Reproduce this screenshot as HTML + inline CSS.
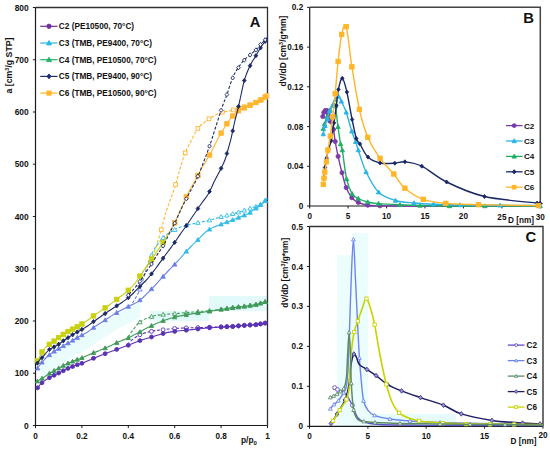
<!DOCTYPE html>
<html><head><meta charset="utf-8"><style>
html,body{margin:0;padding:0;background:#fff;width:550px;height:449px;overflow:hidden;}
svg text{font-family:"Liberation Sans", sans-serif;}
</style></head><body>
<svg width="550" height="449" viewBox="0 0 550 449" style="display:block">
<defs>
<linearGradient id="gC3" gradientUnits="userSpaceOnUse" x1="0" y1="180" x2="0" y2="300"><stop offset="0" stop-color="#33bde6"/><stop offset="0.6" stop-color="#33bde6"/><stop offset="0.7" stop-color="#6a80e6"/><stop offset="1" stop-color="#6a80e6"/></linearGradient>
<linearGradient id="gC6" gradientUnits="userSpaceOnUse" x1="0" y1="180" x2="0" y2="300"><stop offset="0" stop-color="#ffb52e"/><stop offset="0.42" stop-color="#ffb52e"/><stop offset="0.52" stop-color="#c8d010"/><stop offset="1" stop-color="#c8d010"/></linearGradient>
</defs>
<path d="M150,311 H209 V296 H267 V311 H209 V321 H150 Z" fill="#e2fafa"/>
<path d="M40.5,366.0 L44.5,361.7 L48.5,357.6 L52.5,354.5 L56.5,351.8 L60.5,349.6 L64.5,347.2 L68.5,344.8 L72.5,342.5 L76.5,340.1 L80.5,337.8 L84.5,335.7 L88.5,333.4 L92.5,330.4 L96.5,327.6 L100.5,325.0 L104.5,322.5 L108.5,319.9 L112.5,317.3 L116.5,314.8 L120.5,312.6 L124.5,310.5 L128.5,308.5 L132.5,306.5 L136.5,304.4 L140.5,301.6 L140.5,316.6 L136.5,319.4 L132.5,321.5 L128.5,323.5 L124.5,325.5 L120.5,327.6 L116.5,329.8 L112.5,332.3 L108.5,334.9 L104.5,337.5 L100.5,340.0 L96.5,342.6 L92.5,345.4 L88.5,348.4 L84.5,350.7 L80.5,352.8 L76.5,355.1 L72.5,357.5 L68.5,359.8 L64.5,362.2 L60.5,364.6 L56.5,366.8 L52.5,369.5 L48.5,372.6 L44.5,376.7 L40.5,381.0 Z" fill="#ebfcfc"/>
<path d="M35.5,7.5 H267.5 V425.5" fill="none" stroke="#303030" stroke-width="1.3"/>
<path d="M35.5,7.5 V425.5 H267.5" fill="none" stroke="#1a1a1a" stroke-width="1.2"/>
<line x1="32.9" y1="425.5" x2="35.5" y2="425.5" stroke="#1a1a1a" stroke-width="1"/>
<text x="28.7" y="428.6" font-size="8.40" font-weight="bold" text-anchor="end" fill="#111">0</text>
<line x1="32.9" y1="373.2" x2="35.5" y2="373.2" stroke="#1a1a1a" stroke-width="1"/>
<text x="28.7" y="376.4" font-size="8.40" font-weight="bold" text-anchor="end" fill="#111">100</text>
<line x1="32.9" y1="321.0" x2="35.5" y2="321.0" stroke="#1a1a1a" stroke-width="1"/>
<text x="28.7" y="324.1" font-size="8.40" font-weight="bold" text-anchor="end" fill="#111">200</text>
<line x1="32.9" y1="268.8" x2="35.5" y2="268.8" stroke="#1a1a1a" stroke-width="1"/>
<text x="28.7" y="271.9" font-size="8.40" font-weight="bold" text-anchor="end" fill="#111">300</text>
<line x1="32.9" y1="216.5" x2="35.5" y2="216.5" stroke="#1a1a1a" stroke-width="1"/>
<text x="28.7" y="219.6" font-size="8.40" font-weight="bold" text-anchor="end" fill="#111">400</text>
<line x1="32.9" y1="164.2" x2="35.5" y2="164.2" stroke="#1a1a1a" stroke-width="1"/>
<text x="28.7" y="167.3" font-size="8.40" font-weight="bold" text-anchor="end" fill="#111">500</text>
<line x1="32.9" y1="112.0" x2="35.5" y2="112.0" stroke="#1a1a1a" stroke-width="1"/>
<text x="28.7" y="115.1" font-size="8.40" font-weight="bold" text-anchor="end" fill="#111">600</text>
<line x1="32.9" y1="59.8" x2="35.5" y2="59.8" stroke="#1a1a1a" stroke-width="1"/>
<text x="28.7" y="62.9" font-size="8.40" font-weight="bold" text-anchor="end" fill="#111">700</text>
<line x1="32.9" y1="7.5" x2="35.5" y2="7.5" stroke="#1a1a1a" stroke-width="1"/>
<text x="28.7" y="10.6" font-size="8.40" font-weight="bold" text-anchor="end" fill="#111">800</text>
<line x1="35.5" y1="425.5" x2="35.5" y2="428.1" stroke="#1a1a1a" stroke-width="1"/>
<text x="35.5" y="438.5" font-size="8.20" font-weight="bold" text-anchor="middle" fill="#111">0</text>
<line x1="81.9" y1="425.5" x2="81.9" y2="428.1" stroke="#1a1a1a" stroke-width="1"/>
<text x="81.9" y="438.5" font-size="8.20" font-weight="bold" text-anchor="middle" fill="#111">0.2</text>
<line x1="128.3" y1="425.5" x2="128.3" y2="428.1" stroke="#1a1a1a" stroke-width="1"/>
<text x="128.3" y="438.5" font-size="8.20" font-weight="bold" text-anchor="middle" fill="#111">0.4</text>
<line x1="174.7" y1="425.5" x2="174.7" y2="428.1" stroke="#1a1a1a" stroke-width="1"/>
<text x="174.7" y="438.5" font-size="8.20" font-weight="bold" text-anchor="middle" fill="#111">0.6</text>
<line x1="221.1" y1="425.5" x2="221.1" y2="428.1" stroke="#1a1a1a" stroke-width="1"/>
<text x="221.1" y="438.5" font-size="8.20" font-weight="bold" text-anchor="middle" fill="#111">0.8</text>
<line x1="267.5" y1="425.5" x2="267.5" y2="428.1" stroke="#1a1a1a" stroke-width="1"/>
<text x="267.5" y="438.5" font-size="8.20" font-weight="bold" text-anchor="middle" fill="#111">1</text>
<text x="241.0" y="443.0" font-size="8.4" font-weight="bold" fill="#111">p/p<tspan font-size="6" dy="1.6">0</tspan></text>
<text transform="translate(12.2,65.5) rotate(-90)" font-size="8.75" font-weight="bold" text-anchor="middle" fill="#111">a [cm<tspan font-size="5.5" dy="-3">3</tspan><tspan dy="3">/g STP]</tspan></text>
<text x="255.0" y="27.0" font-size="14.80" font-weight="bold" text-anchor="middle" fill="#111">A</text>
<line x1="40.2" y1="26.3" x2="57.5" y2="26.3" stroke="#7030a0" stroke-width="1.2"/>
<circle cx="49.0" cy="26.3" r="2.18" fill="#7030a0" stroke="#7030a0" stroke-width="0.90"/>
<text x="58.8" y="29.3" font-size="8.25" font-weight="bold" text-anchor="start" fill="#111">C2 (PE10500, 70°C)</text>
<line x1="40.2" y1="43.0" x2="57.5" y2="43.0" stroke="#29b8e3" stroke-width="1.2"/>
<path d="M49.0,40.5 L51.5,44.9 L46.5,44.9 Z" fill="#29b8e3" stroke="#29b8e3" stroke-width="0.90"/>
<text x="58.8" y="46.0" font-size="8.25" font-weight="bold" text-anchor="start" fill="#111">C3 (TMB, PE9400, 70°C)</text>
<line x1="40.2" y1="59.7" x2="57.5" y2="59.7" stroke="#22b06a" stroke-width="1.2"/>
<path d="M49.0,57.2 L51.5,61.6 L46.5,61.6 Z" fill="#22b06a" stroke="#22b06a" stroke-width="0.90"/>
<text x="58.8" y="62.7" font-size="8.25" font-weight="bold" text-anchor="start" fill="#111">C4 (TMB, PE10500, 70°C)</text>
<line x1="40.2" y1="76.4" x2="57.5" y2="76.4" stroke="#1c2e6e" stroke-width="1.2"/>
<path d="M49.0,74.0 L51.0,76.4 L49.0,78.8 L47.0,76.4 Z" fill="#1c2e6e" stroke="#1c2e6e" stroke-width="0.90"/>
<text x="58.8" y="79.4" font-size="8.25" font-weight="bold" text-anchor="start" fill="#111">C5 (TMB, PE9400, 90°C)</text>
<line x1="40.2" y1="93.1" x2="57.5" y2="93.1" stroke="#ffb52e" stroke-width="1.2"/>
<rect x="46.9" y="91.0" width="4.2" height="4.2" fill="#ffb52e" stroke="#ffb52e" stroke-width="0.90"/>
<text x="58.8" y="96.1" font-size="8.25" font-weight="bold" text-anchor="start" fill="#111">C6 (TMB, PE10500, 90°C)</text>
<path d="M265.3,323.1 C263.7,323.4 259.4,324.2 255.8,324.6 C252.2,325.0 247.7,325.0 244.0,325.3 C240.3,325.6 237.1,326.1 233.4,326.3 C229.7,326.6 225.6,326.7 221.6,326.8 C217.6,326.9 213.6,327.1 209.7,327.2 C205.8,327.3 201.7,327.5 198.0,327.6 C194.3,327.7 191.1,327.8 187.3,327.9 C183.6,328.0 179.3,328.1 175.5,328.4 C171.7,328.7 168.1,329.1 164.2,329.6 C160.2,330.1 155.9,330.4 151.8,331.3 C147.7,332.2 143.4,333.0 139.5,334.9 C135.6,336.8 130.3,341.6 128.5,342.9" fill="none" stroke="#5a32b4" stroke-width="1.10" stroke-dasharray="3,1.8"/>
<circle cx="265.2" cy="323.1" r="1.95" fill="#fff" stroke="#5a32b4" stroke-width="0.90"/>
<circle cx="260.5" cy="323.9" r="1.95" fill="#fff" stroke="#5a32b4" stroke-width="0.90"/>
<circle cx="255.9" cy="324.6" r="1.95" fill="#fff" stroke="#5a32b4" stroke-width="0.90"/>
<circle cx="250.1" cy="324.9" r="1.95" fill="#fff" stroke="#5a32b4" stroke-width="0.90"/>
<circle cx="244.3" cy="325.3" r="1.95" fill="#fff" stroke="#5a32b4" stroke-width="0.90"/>
<circle cx="238.5" cy="325.8" r="1.95" fill="#fff" stroke="#5a32b4" stroke-width="0.90"/>
<circle cx="232.7" cy="326.3" r="1.95" fill="#fff" stroke="#5a32b4" stroke-width="0.90"/>
<circle cx="226.9" cy="326.6" r="1.95" fill="#fff" stroke="#5a32b4" stroke-width="0.90"/>
<circle cx="221.1" cy="326.8" r="1.95" fill="#fff" stroke="#5a32b4" stroke-width="0.90"/>
<circle cx="209.5" cy="327.2" r="1.95" fill="#fff" stroke="#5a32b4" stroke-width="0.90"/>
<circle cx="197.9" cy="327.6" r="1.95" fill="#fff" stroke="#5a32b4" stroke-width="0.90"/>
<circle cx="186.3" cy="327.9" r="1.95" fill="#fff" stroke="#5a32b4" stroke-width="0.90"/>
<circle cx="174.7" cy="328.5" r="1.95" fill="#fff" stroke="#5a32b4" stroke-width="0.90"/>
<circle cx="163.1" cy="329.8" r="1.95" fill="#fff" stroke="#5a32b4" stroke-width="0.90"/>
<circle cx="151.5" cy="331.4" r="1.95" fill="#fff" stroke="#5a32b4" stroke-width="0.90"/>
<circle cx="139.9" cy="334.8" r="1.95" fill="#fff" stroke="#5a32b4" stroke-width="0.90"/>
<path d="M37.6,387.8 C38.5,386.8 40.5,383.7 42.7,381.9 C44.9,380.1 48.1,378.3 50.7,376.9 C53.3,375.4 55.7,374.5 58.4,373.2 C61.1,371.9 64.1,370.2 67.1,368.8 C70.1,367.4 74.0,365.8 76.5,364.9 C79.0,364.0 79.6,364.3 82.4,363.2 C85.2,362.1 89.7,359.9 93.3,358.4 C96.9,356.9 100.2,355.5 104.2,354.0 C108.2,352.5 113.3,350.6 117.3,349.2 C121.3,347.8 124.6,346.7 128.2,345.3 C131.8,343.9 135.4,342.2 139.1,340.9 C142.8,339.6 146.7,338.5 150.6,337.3 C154.5,336.1 158.6,334.7 162.5,333.7 C166.4,332.7 170.4,332.0 174.3,331.4 C178.2,330.8 182.2,330.6 186.1,330.2 C190.0,329.8 194.0,329.4 197.9,329.0 C201.8,328.6 206.8,328.1 209.7,327.8 C212.6,327.5 213.6,327.5 215.6,327.4 C217.6,327.3 219.6,327.2 221.6,327.1 C223.6,327.0 225.5,326.9 227.5,326.8 C229.5,326.7 231.5,326.7 233.4,326.6 C235.3,326.5 236.9,326.2 238.7,326.0 C240.5,325.8 242.1,325.6 244.0,325.5 C245.9,325.4 247.9,325.2 249.9,325.1 C251.9,325.0 254.0,325.0 255.8,324.8 C257.6,324.6 258.9,324.3 260.5,324.0 C262.1,323.7 264.5,323.2 265.3,323.1" fill="none" stroke="#5a32b4" stroke-width="1.10"/>
<circle cx="37.6" cy="387.8" r="1.95" fill="#5a32b4" stroke="#5a32b4" stroke-width="0.90"/>
<circle cx="42.0" cy="382.7" r="1.95" fill="#5a32b4" stroke="#5a32b4" stroke-width="0.90"/>
<circle cx="49.4" cy="377.7" r="1.95" fill="#5a32b4" stroke="#5a32b4" stroke-width="0.90"/>
<circle cx="54.1" cy="375.3" r="1.95" fill="#5a32b4" stroke="#5a32b4" stroke-width="0.90"/>
<circle cx="58.7" cy="373.0" r="1.95" fill="#5a32b4" stroke="#5a32b4" stroke-width="0.90"/>
<circle cx="63.3" cy="370.7" r="1.95" fill="#5a32b4" stroke="#5a32b4" stroke-width="0.90"/>
<circle cx="68.0" cy="368.4" r="1.95" fill="#5a32b4" stroke="#5a32b4" stroke-width="0.90"/>
<circle cx="72.6" cy="366.5" r="1.95" fill="#5a32b4" stroke="#5a32b4" stroke-width="0.90"/>
<circle cx="77.3" cy="364.7" r="1.95" fill="#5a32b4" stroke="#5a32b4" stroke-width="0.90"/>
<circle cx="81.9" cy="363.3" r="1.95" fill="#5a32b4" stroke="#5a32b4" stroke-width="0.90"/>
<circle cx="93.5" cy="358.3" r="1.95" fill="#5a32b4" stroke="#5a32b4" stroke-width="0.90"/>
<circle cx="105.1" cy="353.7" r="1.95" fill="#5a32b4" stroke="#5a32b4" stroke-width="0.90"/>
<circle cx="116.7" cy="349.4" r="1.95" fill="#5a32b4" stroke="#5a32b4" stroke-width="0.90"/>
<circle cx="128.3" cy="345.3" r="1.95" fill="#5a32b4" stroke="#5a32b4" stroke-width="0.90"/>
<circle cx="139.9" cy="340.6" r="1.95" fill="#5a32b4" stroke="#5a32b4" stroke-width="0.90"/>
<circle cx="151.5" cy="337.0" r="1.95" fill="#5a32b4" stroke="#5a32b4" stroke-width="0.90"/>
<circle cx="163.1" cy="333.6" r="1.95" fill="#5a32b4" stroke="#5a32b4" stroke-width="0.90"/>
<circle cx="174.7" cy="331.4" r="1.95" fill="#5a32b4" stroke="#5a32b4" stroke-width="0.90"/>
<circle cx="186.3" cy="330.2" r="1.95" fill="#5a32b4" stroke="#5a32b4" stroke-width="0.90"/>
<circle cx="197.9" cy="329.0" r="1.95" fill="#5a32b4" stroke="#5a32b4" stroke-width="0.90"/>
<circle cx="209.5" cy="327.8" r="1.95" fill="#5a32b4" stroke="#5a32b4" stroke-width="0.90"/>
<circle cx="221.1" cy="327.1" r="1.95" fill="#5a32b4" stroke="#5a32b4" stroke-width="0.90"/>
<circle cx="226.9" cy="326.8" r="1.95" fill="#5a32b4" stroke="#5a32b4" stroke-width="0.90"/>
<circle cx="232.7" cy="326.6" r="1.95" fill="#5a32b4" stroke="#5a32b4" stroke-width="0.90"/>
<circle cx="238.5" cy="326.0" r="1.95" fill="#5a32b4" stroke="#5a32b4" stroke-width="0.90"/>
<circle cx="244.3" cy="325.5" r="1.95" fill="#5a32b4" stroke="#5a32b4" stroke-width="0.90"/>
<circle cx="250.1" cy="325.1" r="1.95" fill="#5a32b4" stroke="#5a32b4" stroke-width="0.90"/>
<circle cx="255.9" cy="324.8" r="1.95" fill="#5a32b4" stroke="#5a32b4" stroke-width="0.90"/>
<circle cx="260.5" cy="324.0" r="1.95" fill="#5a32b4" stroke="#5a32b4" stroke-width="0.90"/>
<circle cx="265.2" cy="323.1" r="1.95" fill="#5a32b4" stroke="#5a32b4" stroke-width="0.90"/>
<path d="M265.3,301.8 C263.7,302.2 259.4,303.7 255.8,304.4 C252.2,305.1 247.7,305.7 244.0,306.2 C240.3,306.7 237.1,306.9 233.4,307.4 C229.7,307.9 225.6,308.6 221.6,309.2 C217.6,309.8 213.6,310.4 209.7,310.8 C205.8,311.2 201.7,311.3 198.0,311.6 C194.3,311.9 191.1,312.2 187.3,312.5 C183.6,312.8 179.5,313.3 175.5,313.6 C171.5,313.9 167.6,314.0 163.5,314.5 C159.4,315.0 155.0,315.5 151.1,316.7 C147.2,317.9 143.2,319.6 140.2,321.8 C137.2,324.0 135.2,327.2 133.0,330.0 C130.8,332.8 128.1,337.1 127.1,338.5" fill="none" stroke="#3f9a5a" stroke-width="1.10" stroke-dasharray="3,1.8"/>
<path d="M265.2,299.6 L267.4,303.5 L263.0,303.5 Z" fill="#fff" stroke="#3f9a5a" stroke-width="0.90"/>
<path d="M260.5,300.9 L262.7,304.8 L258.3,304.8 Z" fill="#fff" stroke="#3f9a5a" stroke-width="0.90"/>
<path d="M255.9,302.2 L258.1,306.0 L253.7,306.0 Z" fill="#fff" stroke="#3f9a5a" stroke-width="0.90"/>
<path d="M250.1,303.1 L252.3,306.9 L247.9,306.9 Z" fill="#fff" stroke="#3f9a5a" stroke-width="0.90"/>
<path d="M244.3,303.9 L246.5,307.8 L242.1,307.8 Z" fill="#fff" stroke="#3f9a5a" stroke-width="0.90"/>
<path d="M238.5,304.6 L240.7,308.5 L236.3,308.5 Z" fill="#fff" stroke="#3f9a5a" stroke-width="0.90"/>
<path d="M232.7,305.3 L234.9,309.2 L230.5,309.2 Z" fill="#fff" stroke="#3f9a5a" stroke-width="0.90"/>
<path d="M226.9,306.2 L229.1,310.0 L224.7,310.0 Z" fill="#fff" stroke="#3f9a5a" stroke-width="0.90"/>
<path d="M221.1,307.1 L223.3,310.9 L218.9,310.9 Z" fill="#fff" stroke="#3f9a5a" stroke-width="0.90"/>
<path d="M209.5,308.6 L211.7,312.5 L207.3,312.5 Z" fill="#fff" stroke="#3f9a5a" stroke-width="0.90"/>
<path d="M197.9,309.4 L200.1,313.3 L195.7,313.3 Z" fill="#fff" stroke="#3f9a5a" stroke-width="0.90"/>
<path d="M186.3,310.4 L188.5,314.3 L184.1,314.3 Z" fill="#fff" stroke="#3f9a5a" stroke-width="0.90"/>
<path d="M174.7,311.5 L176.9,315.3 L172.5,315.3 Z" fill="#fff" stroke="#3f9a5a" stroke-width="0.90"/>
<path d="M163.1,312.4 L165.3,316.2 L160.9,316.2 Z" fill="#fff" stroke="#3f9a5a" stroke-width="0.90"/>
<path d="M151.5,314.4 L153.7,318.3 L149.3,318.3 Z" fill="#fff" stroke="#3f9a5a" stroke-width="0.90"/>
<path d="M139.9,319.9 L142.1,323.8 L137.7,323.8 Z" fill="#fff" stroke="#3f9a5a" stroke-width="0.90"/>
<path d="M37.0,381.5 C37.8,381.0 40.4,379.4 42.0,378.4 C43.6,377.4 45.0,376.5 46.5,375.5 C48.0,374.5 49.2,373.4 50.7,372.5 C52.2,371.6 54.0,370.8 55.5,370.0 C57.0,369.2 58.5,368.3 60.0,367.5 C61.5,366.7 63.0,365.8 64.5,365.0 C66.0,364.2 67.4,363.5 69.3,362.7 C71.2,361.9 73.6,360.9 76.0,360.0 C78.4,359.1 81.4,358.1 83.5,357.3 C85.6,356.5 86.9,355.7 88.5,355.0 C90.1,354.3 91.6,353.6 93.3,352.9 C95.0,352.2 96.7,351.7 98.5,351.0 C100.3,350.3 102.3,349.3 104.2,348.5 C106.1,347.7 108.0,346.9 110.0,346.0 C112.0,345.1 114.2,343.8 116.2,342.9 C118.2,342.0 120.2,341.2 122.0,340.5 C123.8,339.8 125.3,339.3 127.1,338.5 C128.9,337.7 131.1,336.5 133.0,335.5 C134.9,334.5 135.8,334.2 138.7,332.7 C141.6,331.1 146.4,328.2 150.4,326.2 C154.4,324.2 158.5,322.4 162.5,320.9 C166.5,319.4 170.4,318.2 174.3,317.2 C178.2,316.2 182.2,315.5 186.1,314.8 C190.0,314.1 194.0,313.5 197.9,312.9 C201.8,312.3 206.8,311.7 209.7,311.3 C212.6,310.9 213.6,310.7 215.6,310.4 C217.6,310.1 219.6,309.7 221.6,309.4 C223.6,309.1 225.5,308.8 227.5,308.5 C229.5,308.2 231.5,307.9 233.4,307.7 C235.3,307.5 236.9,307.3 238.7,307.1 C240.5,306.9 242.1,306.8 244.0,306.5 C245.9,306.2 247.9,305.9 249.9,305.6 C251.9,305.3 254.0,305.1 255.8,304.7 C257.6,304.3 258.9,303.8 260.5,303.3 C262.1,302.8 264.5,302.1 265.3,301.8" fill="none" stroke="#3f9a5a" stroke-width="1.10"/>
<path d="M37.4,379.1 L39.6,382.9 L35.1,382.9 Z" fill="#3f9a5a" stroke="#3f9a5a" stroke-width="0.90"/>
<path d="M42.0,376.2 L44.2,380.1 L39.8,380.1 Z" fill="#3f9a5a" stroke="#3f9a5a" stroke-width="0.90"/>
<path d="M49.4,371.2 L51.6,375.1 L47.2,375.1 Z" fill="#3f9a5a" stroke="#3f9a5a" stroke-width="0.90"/>
<path d="M54.1,368.5 L56.3,372.4 L51.9,372.4 Z" fill="#3f9a5a" stroke="#3f9a5a" stroke-width="0.90"/>
<path d="M58.7,366.0 L60.9,369.9 L56.5,369.9 Z" fill="#3f9a5a" stroke="#3f9a5a" stroke-width="0.90"/>
<path d="M63.3,363.4 L65.5,367.3 L61.1,367.3 Z" fill="#3f9a5a" stroke="#3f9a5a" stroke-width="0.90"/>
<path d="M68.0,361.1 L70.2,365.0 L65.8,365.0 Z" fill="#3f9a5a" stroke="#3f9a5a" stroke-width="0.90"/>
<path d="M72.6,359.2 L74.8,363.0 L70.4,363.0 Z" fill="#3f9a5a" stroke="#3f9a5a" stroke-width="0.90"/>
<path d="M77.3,357.3 L79.5,361.2 L75.0,361.2 Z" fill="#3f9a5a" stroke="#3f9a5a" stroke-width="0.90"/>
<path d="M81.9,355.7 L84.1,359.5 L79.7,359.5 Z" fill="#3f9a5a" stroke="#3f9a5a" stroke-width="0.90"/>
<path d="M93.5,350.6 L95.7,354.5 L91.3,354.5 Z" fill="#3f9a5a" stroke="#3f9a5a" stroke-width="0.90"/>
<path d="M105.1,345.9 L107.3,349.8 L102.9,349.8 Z" fill="#3f9a5a" stroke="#3f9a5a" stroke-width="0.90"/>
<path d="M116.7,340.5 L118.9,344.4 L114.5,344.4 Z" fill="#3f9a5a" stroke="#3f9a5a" stroke-width="0.90"/>
<path d="M128.3,335.7 L130.5,339.5 L126.1,339.5 Z" fill="#3f9a5a" stroke="#3f9a5a" stroke-width="0.90"/>
<path d="M139.9,329.8 L142.1,333.7 L137.7,333.7 Z" fill="#3f9a5a" stroke="#3f9a5a" stroke-width="0.90"/>
<path d="M151.5,323.5 L153.7,327.4 L149.3,327.4 Z" fill="#3f9a5a" stroke="#3f9a5a" stroke-width="0.90"/>
<path d="M163.1,318.5 L165.3,322.4 L160.9,322.4 Z" fill="#3f9a5a" stroke="#3f9a5a" stroke-width="0.90"/>
<path d="M174.7,314.9 L176.9,318.8 L172.5,318.8 Z" fill="#3f9a5a" stroke="#3f9a5a" stroke-width="0.90"/>
<path d="M186.3,312.6 L188.5,316.4 L184.1,316.4 Z" fill="#3f9a5a" stroke="#3f9a5a" stroke-width="0.90"/>
<path d="M197.9,310.7 L200.1,314.6 L195.7,314.6 Z" fill="#3f9a5a" stroke="#3f9a5a" stroke-width="0.90"/>
<path d="M209.5,309.1 L211.7,313.0 L207.3,313.0 Z" fill="#3f9a5a" stroke="#3f9a5a" stroke-width="0.90"/>
<path d="M221.1,307.3 L223.3,311.1 L218.9,311.1 Z" fill="#3f9a5a" stroke="#3f9a5a" stroke-width="0.90"/>
<path d="M226.9,306.4 L229.1,310.2 L224.7,310.2 Z" fill="#3f9a5a" stroke="#3f9a5a" stroke-width="0.90"/>
<path d="M232.7,305.6 L234.9,309.5 L230.5,309.5 Z" fill="#3f9a5a" stroke="#3f9a5a" stroke-width="0.90"/>
<path d="M238.5,304.9 L240.7,308.8 L236.3,308.8 Z" fill="#3f9a5a" stroke="#3f9a5a" stroke-width="0.90"/>
<path d="M244.3,304.2 L246.5,308.1 L242.1,308.1 Z" fill="#3f9a5a" stroke="#3f9a5a" stroke-width="0.90"/>
<path d="M250.1,303.4 L252.3,307.2 L247.9,307.2 Z" fill="#3f9a5a" stroke="#3f9a5a" stroke-width="0.90"/>
<path d="M255.9,302.5 L258.1,306.3 L253.7,306.3 Z" fill="#3f9a5a" stroke="#3f9a5a" stroke-width="0.90"/>
<path d="M260.5,301.1 L262.7,304.9 L258.3,304.9 Z" fill="#3f9a5a" stroke="#3f9a5a" stroke-width="0.90"/>
<path d="M265.2,299.6 L267.4,303.5 L263.0,303.5 Z" fill="#3f9a5a" stroke="#3f9a5a" stroke-width="0.90"/>
<path d="M267.2,198.7 C266.3,199.6 263.9,202.7 262.0,204.0 C260.1,205.3 257.8,205.9 256.0,206.5 C254.2,207.1 252.9,207.3 251.5,207.8 C250.1,208.3 248.9,208.9 247.6,209.4 C246.3,209.9 244.8,210.3 243.5,210.7 C242.2,211.1 240.8,211.6 239.5,212.0 C238.2,212.4 236.8,212.7 235.5,213.1 C234.2,213.5 233.1,213.8 231.5,214.2 C229.9,214.6 227.8,215.1 226.0,215.6 C224.2,216.1 222.6,216.4 220.8,216.9 C219.1,217.4 217.3,218.0 215.5,218.5 C213.7,219.0 212.0,219.6 210.1,220.1 C208.2,220.6 206.0,221.0 204.0,221.4 C202.0,221.8 200.1,222.3 198.1,222.7 C196.1,223.1 194.0,223.6 192.0,224.0 C190.0,224.4 188.9,224.5 186.1,225.4 C183.3,226.3 179.2,227.4 175.4,229.4 C171.6,231.4 167.2,233.6 163.4,237.4 C159.6,241.2 155.6,246.7 152.7,252.1 C149.8,257.5 148.1,263.8 146.0,270.0 C143.9,276.2 142.4,283.4 140.1,289.1 C137.8,294.8 133.3,301.5 132.0,304.0" fill="none" stroke="url(#gC3)" stroke-width="1.1" stroke-dasharray="3,1.8"/>
<path d="M265.2,198.5 L267.4,202.4 L263.0,202.4 Z" fill="#fff" stroke="#33bde6" stroke-width="0.90"/>
<path d="M260.5,202.4 L262.7,206.3 L258.3,206.3 Z" fill="#fff" stroke="#33bde6" stroke-width="0.90"/>
<path d="M255.9,204.3 L258.1,208.2 L253.7,208.2 Z" fill="#fff" stroke="#33bde6" stroke-width="0.90"/>
<path d="M250.1,206.2 L252.3,210.0 L247.9,210.0 Z" fill="#fff" stroke="#33bde6" stroke-width="0.90"/>
<path d="M244.3,208.2 L246.5,212.1 L242.1,212.1 Z" fill="#fff" stroke="#33bde6" stroke-width="0.90"/>
<path d="M238.5,210.1 L240.7,213.9 L236.3,213.9 Z" fill="#fff" stroke="#33bde6" stroke-width="0.90"/>
<path d="M232.7,211.7 L234.9,215.5 L230.5,215.5 Z" fill="#fff" stroke="#33bde6" stroke-width="0.90"/>
<path d="M226.9,213.2 L229.1,217.0 L224.7,217.0 Z" fill="#fff" stroke="#33bde6" stroke-width="0.90"/>
<path d="M221.1,214.6 L223.3,218.5 L218.9,218.5 Z" fill="#fff" stroke="#33bde6" stroke-width="0.90"/>
<path d="M209.5,218.0 L211.7,221.9 L207.3,221.9 Z" fill="#fff" stroke="#33bde6" stroke-width="0.90"/>
<path d="M197.9,220.5 L200.1,224.4 L195.7,224.4 Z" fill="#fff" stroke="#33bde6" stroke-width="0.90"/>
<path d="M186.3,223.1 L188.5,227.0 L184.1,227.0 Z" fill="#fff" stroke="#33bde6" stroke-width="0.90"/>
<path d="M174.7,227.7 L176.9,231.5 L172.5,231.5 Z" fill="#fff" stroke="#33bde6" stroke-width="0.90"/>
<path d="M163.1,235.6 L165.3,239.5 L160.9,239.5 Z" fill="#fff" stroke="#33bde6" stroke-width="0.90"/>
<path d="M151.5,253.1 L153.7,257.0 L149.3,257.0 Z" fill="#fff" stroke="#33bde6" stroke-width="0.90"/>
<path d="M139.9,287.3 L142.1,291.1 L137.7,291.1 Z" fill="#fff" stroke="#6a80e6" stroke-width="0.90"/>
<path d="M37.7,368.3 C38.2,367.6 39.5,365.3 40.5,364.0 C41.5,362.7 42.6,361.6 43.9,360.3 C45.1,359.0 46.5,357.3 48.0,356.0 C49.5,354.7 51.3,353.4 52.8,352.3 C54.3,351.2 55.5,350.4 57.0,349.5 C58.5,348.6 60.2,347.9 61.7,347.0 C63.2,346.1 64.5,345.2 66.0,344.3 C67.5,343.4 69.1,342.5 70.6,341.6 C72.1,340.7 73.5,339.9 75.0,339.0 C76.5,338.1 78.0,337.1 79.5,336.3 C81.0,335.5 82.5,334.8 84.0,334.0 C85.5,333.2 86.7,332.6 88.4,331.5 C90.1,330.4 92.3,328.4 94.0,327.2 C95.7,326.0 96.9,325.3 98.5,324.3 C100.1,323.3 101.6,322.4 103.4,321.2 C105.2,320.0 107.4,318.5 109.5,317.2 C111.6,315.9 113.8,314.4 115.8,313.2 C117.8,312.0 119.6,311.0 121.5,310.0 C123.4,309.0 125.5,307.9 127.4,307.0 C129.3,306.1 131.2,305.2 133.0,304.3 C134.8,303.4 136.3,302.8 138.1,301.6 C139.8,300.4 141.7,298.6 143.5,297.0 C145.3,295.4 146.7,293.9 148.8,291.8 C150.9,289.7 153.6,286.9 156.0,284.3 C158.4,281.7 161.2,278.6 163.4,276.2 C165.6,273.8 167.1,272.0 169.0,270.0 C170.9,268.0 173.0,266.2 174.9,264.2 C176.8,262.2 178.6,260.1 180.5,258.0 C182.4,255.9 184.3,253.6 186.1,251.6 C187.9,249.6 189.7,247.8 191.5,246.0 C193.3,244.2 195.0,242.7 196.8,240.9 C198.6,239.1 200.6,236.8 202.5,235.0 C204.4,233.2 206.2,231.4 208.0,230.2 C209.8,228.9 211.3,228.3 213.0,227.5 C214.7,226.7 216.4,226.1 218.2,225.4 C219.9,224.7 221.7,223.9 223.5,223.2 C225.3,222.5 227.3,222.0 228.9,221.4 C230.5,220.8 231.6,220.3 232.9,219.8 C234.2,219.3 235.2,218.9 236.9,218.2 C238.6,217.5 240.9,216.6 242.9,215.8 C244.9,215.0 247.1,214.4 248.9,213.4 C250.7,212.4 251.9,211.1 253.5,210.0 C255.1,208.9 256.6,207.9 258.2,206.7 C259.8,205.5 261.5,204.0 263.0,202.7 C264.5,201.4 266.5,199.4 267.2,198.7" fill="none" stroke="url(#gC3)" stroke-width="1.1"/>
<path d="M37.7,366.1 L39.9,370.0 L35.5,370.0 Z" fill="#6a80e6" stroke="#6a80e6" stroke-width="0.90"/>
<path d="M42.0,360.2 L44.2,364.0 L39.8,364.0 Z" fill="#6a80e6" stroke="#6a80e6" stroke-width="0.90"/>
<path d="M49.4,352.7 L51.6,356.6 L47.2,356.6 Z" fill="#6a80e6" stroke="#6a80e6" stroke-width="0.90"/>
<path d="M54.1,349.2 L56.3,353.1 L51.9,353.1 Z" fill="#6a80e6" stroke="#6a80e6" stroke-width="0.90"/>
<path d="M58.7,346.4 L60.9,350.3 L56.5,350.3 Z" fill="#6a80e6" stroke="#6a80e6" stroke-width="0.90"/>
<path d="M63.3,343.8 L65.5,347.6 L61.1,347.6 Z" fill="#6a80e6" stroke="#6a80e6" stroke-width="0.90"/>
<path d="M68.0,340.9 L70.2,344.8 L65.8,344.8 Z" fill="#6a80e6" stroke="#6a80e6" stroke-width="0.90"/>
<path d="M72.6,338.2 L74.8,342.1 L70.4,342.1 Z" fill="#6a80e6" stroke="#6a80e6" stroke-width="0.90"/>
<path d="M77.3,335.4 L79.5,339.3 L75.0,339.3 Z" fill="#6a80e6" stroke="#6a80e6" stroke-width="0.90"/>
<path d="M81.9,332.9 L84.1,336.7 L79.7,336.7 Z" fill="#6a80e6" stroke="#6a80e6" stroke-width="0.90"/>
<path d="M93.5,325.4 L95.7,329.2 L91.3,329.2 Z" fill="#6a80e6" stroke="#6a80e6" stroke-width="0.90"/>
<path d="M105.1,317.9 L107.3,321.7 L102.9,321.7 Z" fill="#6a80e6" stroke="#6a80e6" stroke-width="0.90"/>
<path d="M116.7,310.5 L118.9,314.4 L114.5,314.4 Z" fill="#6a80e6" stroke="#6a80e6" stroke-width="0.90"/>
<path d="M128.3,304.4 L130.5,308.2 L126.1,308.2 Z" fill="#6a80e6" stroke="#6a80e6" stroke-width="0.90"/>
<path d="M139.9,297.9 L142.1,301.7 L137.7,301.7 Z" fill="#6a80e6" stroke="#6a80e6" stroke-width="0.90"/>
<path d="M151.5,286.8 L153.7,290.6 L149.3,290.6 Z" fill="#6a80e6" stroke="#6a80e6" stroke-width="0.90"/>
<path d="M163.1,274.3 L165.3,278.2 L160.9,278.2 Z" fill="#6a80e6" stroke="#6a80e6" stroke-width="0.90"/>
<path d="M174.7,262.2 L176.9,266.1 L172.5,266.1 Z" fill="#6a80e6" stroke="#6a80e6" stroke-width="0.90"/>
<path d="M186.3,249.2 L188.5,253.1 L184.1,253.1 Z" fill="#33bde6" stroke="#33bde6" stroke-width="0.90"/>
<path d="M197.9,237.6 L200.1,241.4 L195.7,241.4 Z" fill="#33bde6" stroke="#33bde6" stroke-width="0.90"/>
<path d="M209.5,227.2 L211.7,231.0 L207.3,231.0 Z" fill="#33bde6" stroke="#33bde6" stroke-width="0.90"/>
<path d="M221.1,222.0 L223.3,225.9 L218.9,225.9 Z" fill="#33bde6" stroke="#33bde6" stroke-width="0.90"/>
<path d="M226.9,219.9 L229.1,223.7 L224.7,223.7 Z" fill="#33bde6" stroke="#33bde6" stroke-width="0.90"/>
<path d="M232.7,217.7 L234.9,221.5 L230.5,221.5 Z" fill="#33bde6" stroke="#33bde6" stroke-width="0.90"/>
<path d="M238.5,215.3 L240.7,219.2 L236.3,219.2 Z" fill="#33bde6" stroke="#33bde6" stroke-width="0.90"/>
<path d="M244.3,213.0 L246.5,216.9 L242.1,216.9 Z" fill="#33bde6" stroke="#33bde6" stroke-width="0.90"/>
<path d="M250.1,210.3 L252.3,214.2 L247.9,214.2 Z" fill="#33bde6" stroke="#33bde6" stroke-width="0.90"/>
<path d="M255.9,206.1 L258.1,210.0 L253.7,210.0 Z" fill="#33bde6" stroke="#33bde6" stroke-width="0.90"/>
<path d="M260.5,202.5 L262.7,206.4 L258.3,206.4 Z" fill="#33bde6" stroke="#33bde6" stroke-width="0.90"/>
<path d="M265.2,198.4 L267.4,202.3 L263.0,202.3 Z" fill="#33bde6" stroke="#33bde6" stroke-width="0.90"/>
<path d="M267.0,95.5 C266.2,96.2 263.8,98.3 262.0,99.5 C260.2,100.7 258.0,101.6 256.0,102.5 C254.0,103.4 252.0,104.3 250.0,105.0 C248.0,105.7 246.0,106.2 244.0,106.8 C242.0,107.4 239.8,108.0 238.0,108.5 C236.2,109.0 235.2,109.5 233.5,110.0 C231.8,110.5 229.8,110.8 227.9,111.2 C226.1,111.6 224.4,111.6 222.4,112.2 C220.4,112.8 217.9,113.9 215.7,115.0 C213.5,116.1 211.0,117.6 209.0,118.9 C207.0,120.2 205.3,121.4 203.5,123.0 C201.7,124.6 199.9,125.7 197.9,128.5 C195.9,131.3 193.6,135.9 191.5,140.0 C189.4,144.1 187.1,148.3 185.2,153.0 C183.3,157.7 181.9,162.7 180.3,168.0 C178.7,173.3 177.2,179.6 175.6,184.6 C174.0,189.6 172.6,193.4 171.0,198.0 C169.4,202.6 167.7,206.7 166.0,212.0 C164.3,217.3 162.9,223.7 161.1,230.0 C159.3,236.3 157.2,244.2 155.0,250.0 C152.8,255.8 150.6,260.6 148.0,265.0 C145.4,269.4 140.8,274.3 139.4,276.2" fill="none" stroke="url(#gC6)" stroke-width="1.1" stroke-dasharray="3,1.8"/>
<rect x="265.1" y="93.6" width="3.7" height="3.7" fill="#fff" stroke="#ffb52e" stroke-width="0.90"/>
<rect x="260.1" y="97.6" width="3.7" height="3.7" fill="#fff" stroke="#ffb52e" stroke-width="0.90"/>
<rect x="254.1" y="100.6" width="3.7" height="3.7" fill="#fff" stroke="#ffb52e" stroke-width="0.90"/>
<rect x="248.1" y="103.1" width="3.7" height="3.7" fill="#fff" stroke="#ffb52e" stroke-width="0.90"/>
<rect x="242.1" y="104.9" width="3.7" height="3.7" fill="#fff" stroke="#ffb52e" stroke-width="0.90"/>
<rect x="236.6" y="106.5" width="3.7" height="3.7" fill="#fff" stroke="#ffb52e" stroke-width="0.90"/>
<rect x="231.6" y="108.1" width="3.7" height="3.7" fill="#fff" stroke="#ffb52e" stroke-width="0.90"/>
<rect x="220.5" y="110.3" width="3.7" height="3.7" fill="#fff" stroke="#ffb52e" stroke-width="0.90"/>
<rect x="207.1" y="117.0" width="3.7" height="3.7" fill="#fff" stroke="#ffb52e" stroke-width="0.90"/>
<rect x="196.0" y="126.6" width="3.7" height="3.7" fill="#fff" stroke="#ffb52e" stroke-width="0.90"/>
<rect x="183.3" y="151.1" width="3.7" height="3.7" fill="#fff" stroke="#ffb52e" stroke-width="0.90"/>
<rect x="173.7" y="182.7" width="3.7" height="3.7" fill="#fff" stroke="#ffb52e" stroke-width="0.90"/>
<rect x="159.4" y="227.9" width="3.7" height="3.7" fill="#fff" stroke="#ffb52e" stroke-width="0.90"/>
<path d="M37.2,361.2 C37.7,360.3 39.2,357.6 40.0,356.0 C40.8,354.4 41.3,353.1 42.1,351.8 C42.9,350.5 44.0,349.1 45.0,348.0 C46.0,346.9 47.1,346.0 48.4,345.0 C49.7,344.0 51.6,342.8 52.8,342.0 C54.0,341.2 54.6,340.7 55.5,340.0 C56.4,339.3 56.8,338.9 58.1,338.0 C59.4,337.1 61.9,335.4 63.5,334.3 C65.1,333.2 66.7,332.2 67.9,331.5 C69.1,330.8 69.6,330.7 70.5,330.2 C71.4,329.7 72.0,329.4 73.3,328.7 C74.6,328.0 77.0,327.1 78.6,326.2 C80.2,325.3 81.5,324.3 83.1,323.2 C84.7,322.1 86.8,321.0 88.4,319.8 C90.1,318.6 91.3,317.4 93.0,316.2 C94.7,315.0 96.7,313.8 98.5,312.5 C100.3,311.2 102.2,310.0 104.0,308.7 C105.8,307.4 107.7,306.1 109.5,304.8 C111.3,303.5 113.0,302.2 115.0,300.7 C117.0,299.2 119.3,297.5 121.5,295.8 C123.7,294.1 125.9,292.5 128.0,290.6 C130.1,288.7 132.2,286.7 134.0,284.5 C135.8,282.3 137.3,279.9 139.0,277.5 C140.7,275.1 142.2,272.6 144.0,270.0 C145.8,267.4 147.6,264.8 149.5,262.0 C151.4,259.2 153.4,256.5 155.5,253.5 C157.6,250.5 160.0,247.3 162.1,244.1 C164.2,240.8 166.0,237.3 168.0,234.0 C170.0,230.7 172.1,227.9 174.1,224.1 C176.1,220.3 178.0,215.5 180.0,211.0 C182.0,206.5 184.4,200.9 186.3,196.9 C188.2,192.9 189.8,190.2 191.5,187.0 C193.2,183.8 195.0,180.8 196.8,177.5 C198.6,174.2 200.5,170.4 202.5,167.0 C204.5,163.6 206.6,160.4 208.6,156.8 C210.6,153.2 212.6,149.2 214.5,145.5 C216.4,141.8 218.4,137.7 220.2,134.5 C222.0,131.3 223.9,128.5 225.3,126.3 C226.7,124.1 227.4,122.9 228.5,121.3 C229.6,119.7 230.9,118.0 232.0,116.7 C233.1,115.4 234.0,114.5 235.0,113.6 C236.0,112.7 237.1,111.8 238.0,111.1 C238.9,110.4 239.8,110.1 240.7,109.6 C241.6,109.1 242.5,108.8 243.5,108.3 C244.5,107.8 245.5,107.4 246.5,106.9 C247.5,106.4 248.5,106.0 249.5,105.5 C250.5,105.0 251.5,104.6 252.5,104.1 C253.5,103.6 254.5,103.2 255.5,102.7 C256.5,102.2 257.5,101.7 258.5,101.2 C259.5,100.7 260.5,100.2 261.5,99.6 C262.5,99.0 263.6,98.2 264.5,97.5 C265.4,96.8 266.6,95.8 267.0,95.5" fill="none" stroke="url(#gC6)" stroke-width="1.1"/>
<rect x="35.2" y="358.7" width="4.4" height="4.4" fill="#c8d010" stroke="#c8d010" stroke-width="0.90"/>
<rect x="39.8" y="349.8" width="4.4" height="4.4" fill="#c8d010" stroke="#c8d010" stroke-width="0.90"/>
<rect x="47.2" y="342.1" width="4.4" height="4.4" fill="#c8d010" stroke="#c8d010" stroke-width="0.90"/>
<rect x="51.9" y="338.9" width="4.4" height="4.4" fill="#c8d010" stroke="#c8d010" stroke-width="0.90"/>
<rect x="56.5" y="335.4" width="4.4" height="4.4" fill="#c8d010" stroke="#c8d010" stroke-width="0.90"/>
<rect x="61.1" y="332.2" width="4.4" height="4.4" fill="#c8d010" stroke="#c8d010" stroke-width="0.90"/>
<rect x="65.8" y="329.3" width="4.4" height="4.4" fill="#c8d010" stroke="#c8d010" stroke-width="0.90"/>
<rect x="70.4" y="326.9" width="4.4" height="4.4" fill="#c8d010" stroke="#c8d010" stroke-width="0.90"/>
<rect x="75.1" y="324.6" width="4.4" height="4.4" fill="#c8d010" stroke="#c8d010" stroke-width="0.90"/>
<rect x="79.7" y="321.8" width="4.4" height="4.4" fill="#c8d010" stroke="#c8d010" stroke-width="0.90"/>
<rect x="91.3" y="313.7" width="4.4" height="4.4" fill="#c8d010" stroke="#c8d010" stroke-width="0.90"/>
<rect x="102.9" y="305.7" width="4.4" height="4.4" fill="#c8d010" stroke="#c8d010" stroke-width="0.90"/>
<rect x="114.5" y="297.2" width="4.4" height="4.4" fill="#c8d010" stroke="#c8d010" stroke-width="0.90"/>
<rect x="126.1" y="288.1" width="4.4" height="4.4" fill="#c8d010" stroke="#c8d010" stroke-width="0.90"/>
<rect x="137.7" y="273.9" width="4.4" height="4.4" fill="#c8d010" stroke="#c8d010" stroke-width="0.90"/>
<rect x="149.3" y="257.0" width="4.4" height="4.4" fill="#c8d010" stroke="#c8d010" stroke-width="0.90"/>
<rect x="160.9" y="240.2" width="4.4" height="4.4" fill="#c8d010" stroke="#c8d010" stroke-width="0.90"/>
<rect x="172.5" y="220.6" width="4.4" height="4.4" fill="#ffb52e" stroke="#ffb52e" stroke-width="0.90"/>
<rect x="184.1" y="194.7" width="4.4" height="4.4" fill="#ffb52e" stroke="#ffb52e" stroke-width="0.90"/>
<rect x="195.7" y="173.3" width="4.4" height="4.4" fill="#ffb52e" stroke="#ffb52e" stroke-width="0.90"/>
<rect x="207.3" y="152.9" width="4.4" height="4.4" fill="#ffb52e" stroke="#ffb52e" stroke-width="0.90"/>
<rect x="218.9" y="130.9" width="4.4" height="4.4" fill="#ffb52e" stroke="#ffb52e" stroke-width="0.90"/>
<rect x="224.7" y="121.6" width="4.4" height="4.4" fill="#ffb52e" stroke="#ffb52e" stroke-width="0.90"/>
<rect x="230.5" y="113.8" width="4.4" height="4.4" fill="#ffb52e" stroke="#ffb52e" stroke-width="0.90"/>
<rect x="236.3" y="108.6" width="4.4" height="4.4" fill="#ffb52e" stroke="#ffb52e" stroke-width="0.90"/>
<rect x="242.1" y="105.7" width="4.4" height="4.4" fill="#ffb52e" stroke="#ffb52e" stroke-width="0.90"/>
<rect x="247.9" y="103.0" width="4.4" height="4.4" fill="#ffb52e" stroke="#ffb52e" stroke-width="0.90"/>
<rect x="253.7" y="100.3" width="4.4" height="4.4" fill="#ffb52e" stroke="#ffb52e" stroke-width="0.90"/>
<rect x="258.3" y="97.9" width="4.4" height="4.4" fill="#ffb52e" stroke="#ffb52e" stroke-width="0.90"/>
<rect x="263.0" y="94.8" width="4.4" height="4.4" fill="#ffb52e" stroke="#ffb52e" stroke-width="0.90"/>
<path d="M36.8,364.0 C37.3,363.2 39.0,360.7 40.0,359.5 C41.0,358.3 42.0,357.9 43.0,356.8 C44.0,355.7 45.0,354.2 46.0,353.0 C47.0,351.8 48.0,350.5 49.2,349.6 C50.4,348.7 51.6,348.2 53.0,347.5 C54.4,346.8 56.0,345.9 57.3,345.2 C58.5,344.4 59.5,343.8 60.5,343.0 C61.5,342.2 62.3,341.5 63.5,340.7 C64.7,339.9 66.2,338.9 67.5,338.0 C68.8,337.1 70.3,336.1 71.5,335.4 C72.7,334.7 73.5,334.2 74.5,333.6 C75.5,333.0 76.6,332.4 77.7,331.8 C78.8,331.2 80.0,330.6 81.0,330.0 C82.0,329.4 82.8,329.0 84.0,328.3 C85.2,327.6 86.6,326.8 88.0,325.8 C89.4,324.8 90.6,323.7 92.3,322.5 C94.0,321.3 96.0,319.9 98.0,318.5 C100.0,317.1 102.0,315.7 104.0,314.3 C106.0,312.9 108.0,311.7 110.0,310.3 C112.0,308.9 114.1,307.6 116.2,306.2 C118.3,304.8 120.5,303.4 122.5,302.0 C124.5,300.6 126.3,299.4 128.2,297.8 C130.1,296.2 132.1,294.4 134.0,292.5 C135.9,290.6 138.0,288.3 139.8,286.5 C141.6,284.7 143.2,283.3 145.0,281.5 C146.8,279.7 148.5,277.8 150.3,275.5 C152.1,273.2 154.0,270.6 156.0,268.0 C158.0,265.4 160.1,262.4 162.1,259.6 C164.1,256.9 166.0,254.2 168.0,251.5 C170.0,248.8 172.1,246.1 174.1,243.3 C176.1,240.5 178.0,237.5 180.0,234.6 C182.0,231.7 184.2,228.8 186.1,226.0 C188.0,223.2 189.7,220.6 191.5,218.0 C193.3,215.4 195.0,212.9 196.8,210.2 C198.6,207.5 200.5,204.8 202.5,202.0 C204.5,199.2 206.6,197.0 208.6,193.5 C210.6,190.0 212.5,185.1 214.5,181.0 C216.5,176.9 219.0,172.7 220.8,169.0 C222.6,165.3 224.0,162.5 225.3,159.0 C226.6,155.5 227.5,151.6 228.5,148.0 C229.5,144.4 230.3,141.7 231.3,137.4 C232.3,133.2 233.4,127.4 234.5,122.5 C235.6,117.6 237.0,112.8 238.1,108.2 C239.2,103.6 240.0,99.5 241.0,95.0 C242.0,90.5 243.2,84.6 244.1,81.1 C245.0,77.6 245.7,76.2 246.5,74.0 C247.3,71.8 248.2,69.7 249.1,67.7 C250.0,65.7 251.0,63.8 252.0,62.0 C253.0,60.2 254.1,58.8 255.1,57.1 C256.1,55.4 257.0,53.7 258.0,52.0 C259.0,50.3 260.2,48.4 261.1,47.0 C262.0,45.6 262.6,44.7 263.5,43.5 C264.4,42.3 265.5,40.9 266.2,40.0 C266.9,39.1 267.3,38.3 267.5,38.0" fill="none" stroke="#1c2a66" stroke-width="1.10"/>
<path d="M37.4,361.1 L39.2,363.2 L37.4,365.3 L35.5,363.2 Z" fill="#1c2a66" stroke="#1c2a66" stroke-width="0.90"/>
<path d="M42.0,355.6 L43.8,357.7 L42.0,359.8 L40.2,357.7 Z" fill="#1c2a66" stroke="#1c2a66" stroke-width="0.90"/>
<path d="M49.4,347.4 L51.2,349.5 L49.4,351.6 L47.6,349.5 Z" fill="#1c2a66" stroke="#1c2a66" stroke-width="0.90"/>
<path d="M54.1,344.8 L55.9,346.9 L54.1,349.1 L52.3,346.9 Z" fill="#1c2a66" stroke="#1c2a66" stroke-width="0.90"/>
<path d="M58.7,342.1 L60.5,344.2 L58.7,346.4 L56.9,344.2 Z" fill="#1c2a66" stroke="#1c2a66" stroke-width="0.90"/>
<path d="M63.3,338.7 L65.1,340.8 L63.3,342.9 L61.5,340.8 Z" fill="#1c2a66" stroke="#1c2a66" stroke-width="0.90"/>
<path d="M68.0,335.6 L69.8,337.7 L68.0,339.8 L66.2,337.7 Z" fill="#1c2a66" stroke="#1c2a66" stroke-width="0.90"/>
<path d="M72.6,332.6 L74.4,334.7 L72.6,336.9 L70.8,334.7 Z" fill="#1c2a66" stroke="#1c2a66" stroke-width="0.90"/>
<path d="M77.3,329.9 L79.1,332.0 L77.3,334.2 L75.5,332.0 Z" fill="#1c2a66" stroke="#1c2a66" stroke-width="0.90"/>
<path d="M81.9,327.4 L83.7,329.5 L81.9,331.6 L80.1,329.5 Z" fill="#1c2a66" stroke="#1c2a66" stroke-width="0.90"/>
<path d="M93.5,319.5 L95.3,321.7 L93.5,323.8 L91.7,321.7 Z" fill="#1c2a66" stroke="#1c2a66" stroke-width="0.90"/>
<path d="M105.1,311.4 L106.9,313.6 L105.1,315.7 L103.3,313.6 Z" fill="#1c2a66" stroke="#1c2a66" stroke-width="0.90"/>
<path d="M116.7,303.7 L118.5,305.9 L116.7,308.0 L114.9,305.9 Z" fill="#1c2a66" stroke="#1c2a66" stroke-width="0.90"/>
<path d="M128.3,295.6 L130.1,297.7 L128.3,299.8 L126.5,297.7 Z" fill="#1c2a66" stroke="#1c2a66" stroke-width="0.90"/>
<path d="M139.9,284.3 L141.7,286.4 L139.9,288.5 L138.1,286.4 Z" fill="#1c2a66" stroke="#1c2a66" stroke-width="0.90"/>
<path d="M151.5,271.8 L153.3,273.9 L151.5,276.0 L149.7,273.9 Z" fill="#1c2a66" stroke="#1c2a66" stroke-width="0.90"/>
<path d="M163.1,256.1 L164.9,258.2 L163.1,260.4 L161.3,258.2 Z" fill="#1c2a66" stroke="#1c2a66" stroke-width="0.90"/>
<path d="M174.7,240.3 L176.5,242.4 L174.7,244.5 L172.9,242.4 Z" fill="#1c2a66" stroke="#1c2a66" stroke-width="0.90"/>
<path d="M186.3,223.6 L188.1,225.7 L186.3,227.8 L184.5,225.7 Z" fill="#1c2a66" stroke="#1c2a66" stroke-width="0.90"/>
<path d="M197.9,206.5 L199.7,208.6 L197.9,210.7 L196.1,208.6 Z" fill="#1c2a66" stroke="#1c2a66" stroke-width="0.90"/>
<path d="M209.5,189.5 L211.3,191.6 L209.5,193.7 L207.7,191.6 Z" fill="#1c2a66" stroke="#1c2a66" stroke-width="0.90"/>
<path d="M221.1,166.2 L222.9,168.3 L221.1,170.5 L219.3,168.3 Z" fill="#1c2a66" stroke="#1c2a66" stroke-width="0.90"/>
<path d="M226.9,151.4 L228.7,153.5 L226.9,155.6 L225.1,153.5 Z" fill="#1c2a66" stroke="#1c2a66" stroke-width="0.90"/>
<path d="M232.7,128.8 L234.5,130.9 L232.7,133.0 L230.9,130.9 Z" fill="#1c2a66" stroke="#1c2a66" stroke-width="0.90"/>
<path d="M238.5,104.3 L240.3,106.4 L238.5,108.5 L236.7,106.4 Z" fill="#1c2a66" stroke="#1c2a66" stroke-width="0.90"/>
<path d="M244.3,78.4 L246.1,80.5 L244.3,82.6 L242.5,80.5 Z" fill="#1c2a66" stroke="#1c2a66" stroke-width="0.90"/>
<path d="M250.1,63.6 L251.9,65.7 L250.1,67.9 L248.3,65.7 Z" fill="#1c2a66" stroke="#1c2a66" stroke-width="0.90"/>
<path d="M255.9,53.6 L257.7,55.7 L255.9,57.8 L254.1,55.7 Z" fill="#1c2a66" stroke="#1c2a66" stroke-width="0.90"/>
<path d="M260.5,45.8 L262.3,47.9 L260.5,50.0 L258.7,47.9 Z" fill="#1c2a66" stroke="#1c2a66" stroke-width="0.90"/>
<path d="M265.2,39.2 L267.0,41.3 L265.2,43.4 L263.4,41.3 Z" fill="#1c2a66" stroke="#1c2a66" stroke-width="0.90"/>
<path d="M267.5,37.4 C266.9,38.0 265.3,39.7 264.1,41.0 C262.9,42.3 261.4,43.5 260.1,45.0 C258.8,46.5 257.6,48.2 256.1,49.7 C254.6,51.2 252.9,52.5 251.1,54.1 C249.3,55.7 247.0,57.2 245.1,59.1 C243.2,61.0 241.7,62.8 239.7,65.7 C237.7,68.6 235.2,72.0 233.1,76.7 C231.0,81.4 228.9,89.0 227.1,94.1 C225.3,99.2 223.9,101.9 222.1,107.2 C220.2,112.5 218.0,119.8 216.0,126.0 C214.0,132.2 212.1,138.7 210.1,144.5 C208.1,150.3 206.1,155.5 204.0,161.0 C201.9,166.5 199.4,173.0 197.4,177.5 C195.4,182.0 193.8,184.6 192.0,188.0 C190.2,191.4 188.5,194.4 186.6,198.2 C184.7,201.9 182.4,206.4 180.5,210.5 C178.6,214.6 176.8,218.8 174.9,222.7 C173.0,226.6 170.9,230.2 169.0,234.0 C167.1,237.8 165.4,242.0 163.4,245.5 C161.4,249.0 159.0,251.9 157.0,255.0 C155.0,258.1 153.3,261.2 151.4,264.2 C149.5,267.2 147.5,270.0 145.5,273.0 C143.5,276.0 141.6,279.2 139.5,282.0 C137.4,284.8 135.1,287.6 133.0,290.0 C130.9,292.4 128.0,295.5 127.0,296.6" fill="none" stroke="#1c2a66" stroke-width="1.10" stroke-dasharray="3,1.8"/>
<path d="M265.2,37.7 L267.0,39.9 L265.2,42.0 L263.4,39.9 Z" fill="#fff" stroke="#1c2a66" stroke-width="0.90"/>
<path d="M260.5,42.4 L262.3,44.6 L260.5,46.7 L258.7,44.6 Z" fill="#fff" stroke="#1c2a66" stroke-width="0.90"/>
<path d="M255.9,47.8 L257.7,49.9 L255.9,52.0 L254.1,49.9 Z" fill="#fff" stroke="#1c2a66" stroke-width="0.90"/>
<path d="M250.1,52.8 L251.9,54.9 L250.1,57.1 L248.3,54.9 Z" fill="#fff" stroke="#1c2a66" stroke-width="0.90"/>
<path d="M244.3,58.0 L246.1,60.1 L244.3,62.2 L242.5,60.1 Z" fill="#fff" stroke="#1c2a66" stroke-width="0.90"/>
<path d="M238.5,65.6 L240.3,67.7 L238.5,69.8 L236.7,67.7 Z" fill="#fff" stroke="#1c2a66" stroke-width="0.90"/>
<path d="M232.7,75.7 L234.5,77.9 L232.7,80.0 L230.9,77.9 Z" fill="#fff" stroke="#1c2a66" stroke-width="0.90"/>
<path d="M226.9,92.5 L228.7,94.6 L226.9,96.7 L225.1,94.6 Z" fill="#fff" stroke="#1c2a66" stroke-width="0.90"/>
<path d="M221.1,108.2 L222.9,110.3 L221.1,112.4 L219.3,110.3 Z" fill="#fff" stroke="#1c2a66" stroke-width="0.90"/>
<path d="M209.5,144.0 L211.3,146.1 L209.5,148.2 L207.7,146.1 Z" fill="#fff" stroke="#1c2a66" stroke-width="0.90"/>
<path d="M197.9,174.1 L199.7,176.3 L197.9,178.4 L196.1,176.3 Z" fill="#fff" stroke="#1c2a66" stroke-width="0.90"/>
<path d="M186.3,196.7 L188.1,198.8 L186.3,200.9 L184.5,198.8 Z" fill="#fff" stroke="#1c2a66" stroke-width="0.90"/>
<path d="M174.7,221.0 L176.5,223.1 L174.7,225.2 L172.9,223.1 Z" fill="#fff" stroke="#1c2a66" stroke-width="0.90"/>
<path d="M163.1,243.8 L164.9,245.9 L163.1,248.1 L161.3,245.9 Z" fill="#fff" stroke="#1c2a66" stroke-width="0.90"/>
<path d="M151.5,261.9 L153.3,264.0 L151.5,266.2 L149.7,264.0 Z" fill="#fff" stroke="#1c2a66" stroke-width="0.90"/>
<path d="M139.9,279.3 L141.7,281.4 L139.9,283.5 L138.1,281.4 Z" fill="#fff" stroke="#1c2a66" stroke-width="0.90"/>
<path d="M128.3,293.0 L130.1,295.2 L128.3,297.3 L126.5,295.2 Z" fill="#fff" stroke="#1c2a66" stroke-width="0.90"/>
<path d="M309.7,7.2 H540.3 V206.0" fill="none" stroke="#444" stroke-width="1.5"/>
<path d="M309.7,7.4 V206.0 H540.3" fill="none" stroke="#1a1a1a" stroke-width="1.2"/>
<line x1="307.1" y1="206.0" x2="309.7" y2="206.0" stroke="#1a1a1a" stroke-width="1"/>
<text x="303.2" y="209.0" font-size="8.20" font-weight="bold" text-anchor="end" fill="#111">0</text>
<line x1="307.1" y1="166.3" x2="309.7" y2="166.3" stroke="#1a1a1a" stroke-width="1"/>
<text x="303.2" y="169.3" font-size="8.20" font-weight="bold" text-anchor="end" fill="#111">0.04</text>
<line x1="307.1" y1="126.6" x2="309.7" y2="126.6" stroke="#1a1a1a" stroke-width="1"/>
<text x="303.2" y="129.6" font-size="8.20" font-weight="bold" text-anchor="end" fill="#111">0.08</text>
<line x1="307.1" y1="86.8" x2="309.7" y2="86.8" stroke="#1a1a1a" stroke-width="1"/>
<text x="303.2" y="89.8" font-size="8.20" font-weight="bold" text-anchor="end" fill="#111">0.12</text>
<line x1="307.1" y1="47.1" x2="309.7" y2="47.1" stroke="#1a1a1a" stroke-width="1"/>
<text x="303.2" y="50.1" font-size="8.20" font-weight="bold" text-anchor="end" fill="#111">0.16</text>
<line x1="307.1" y1="7.4" x2="309.7" y2="7.4" stroke="#1a1a1a" stroke-width="1"/>
<text x="303.2" y="10.4" font-size="8.20" font-weight="bold" text-anchor="end" fill="#111">0.2</text>
<line x1="309.7" y1="206.0" x2="309.7" y2="208.4" stroke="#1a1a1a" stroke-width="1"/>
<text x="309.7" y="219.0" font-size="8.20" font-weight="bold" text-anchor="middle" fill="#111">0</text>
<line x1="348.1" y1="206.0" x2="348.1" y2="208.4" stroke="#1a1a1a" stroke-width="1"/>
<text x="348.1" y="219.0" font-size="8.20" font-weight="bold" text-anchor="middle" fill="#111">5</text>
<line x1="386.6" y1="206.0" x2="386.6" y2="208.4" stroke="#1a1a1a" stroke-width="1"/>
<text x="386.6" y="219.0" font-size="8.20" font-weight="bold" text-anchor="middle" fill="#111">10</text>
<line x1="425.0" y1="206.0" x2="425.0" y2="208.4" stroke="#1a1a1a" stroke-width="1"/>
<text x="425.0" y="219.0" font-size="8.20" font-weight="bold" text-anchor="middle" fill="#111">15</text>
<line x1="463.4" y1="206.0" x2="463.4" y2="208.4" stroke="#1a1a1a" stroke-width="1"/>
<text x="463.4" y="219.0" font-size="8.20" font-weight="bold" text-anchor="middle" fill="#111">20</text>
<line x1="501.9" y1="206.0" x2="501.9" y2="208.4" stroke="#1a1a1a" stroke-width="1"/>
<text x="501.9" y="219.5" font-size="8.20" font-weight="bold" text-anchor="middle" fill="#111">25</text>
<line x1="540.3" y1="206.0" x2="540.3" y2="208.4" stroke="#1a1a1a" stroke-width="1"/>
<text x="540.3" y="219.5" font-size="8.20" font-weight="bold" text-anchor="middle" fill="#111">30</text>
<text x="508.0" y="222.8" font-size="8.20" font-weight="bold" text-anchor="start" fill="#111">D [nm]</text>
<text transform="translate(286.4,51.1) rotate(-90)" font-size="8.45" font-weight="bold" text-anchor="middle" fill="#111">dV/dD [cm<tspan font-size="5.5" dy="-3">3</tspan><tspan dy="3">/g*nm]</tspan></text>
<text x="528.6" y="22.7" font-size="14.80" font-weight="bold" text-anchor="middle" fill="#111">B</text>
<line x1="506" y1="125.6" x2="522.6" y2="125.6" stroke="#7b3aa8" stroke-width="1.3"/>
<circle cx="514.2" cy="125.6" r="1.95" fill="#7b3aa8" stroke="#7b3aa8" stroke-width="0.90"/>
<text x="524.0" y="128.6" font-size="8.10" font-weight="bold" text-anchor="start" fill="#111">C2</text>
<line x1="506" y1="141.0" x2="522.6" y2="141.0" stroke="#2ab4e4" stroke-width="1.3"/>
<path d="M514.2,138.8 L516.4,142.7 L512.0,142.7 Z" fill="#2ab4e4" stroke="#2ab4e4" stroke-width="0.90"/>
<text x="524.0" y="144.0" font-size="8.10" font-weight="bold" text-anchor="start" fill="#111">C3</text>
<line x1="506" y1="156.4" x2="522.6" y2="156.4" stroke="#1fae66" stroke-width="1.3"/>
<path d="M514.2,154.2 L516.4,158.1 L512.0,158.1 Z" fill="#1fae66" stroke="#1fae66" stroke-width="0.90"/>
<text x="524.0" y="159.4" font-size="8.10" font-weight="bold" text-anchor="start" fill="#111">C4</text>
<line x1="506" y1="171.8" x2="522.6" y2="171.8" stroke="#1a2866" stroke-width="1.3"/>
<path d="M514.2,169.7 L516.0,171.8 L514.2,173.9 L512.4,171.8 Z" fill="#1a2866" stroke="#1a2866" stroke-width="0.90"/>
<text x="524.0" y="174.8" font-size="8.10" font-weight="bold" text-anchor="start" fill="#111">C5</text>
<line x1="506" y1="187.2" x2="522.6" y2="187.2" stroke="#ffb526" stroke-width="1.3"/>
<rect x="512.3" y="185.3" width="3.7" height="3.7" fill="#ffb526" stroke="#ffb526" stroke-width="0.90"/>
<text x="524.0" y="190.2" font-size="8.10" font-weight="bold" text-anchor="start" fill="#111">C6</text>
<path d="M322.8,116.5 C323.0,115.8 323.4,113.5 323.8,112.5 C324.2,111.5 324.8,110.8 325.3,110.5 C325.8,110.2 326.5,109.9 327.0,110.5 C327.5,111.1 327.8,112.2 328.3,114.0 C328.8,115.8 329.1,118.6 330.0,121.2 C330.9,123.8 332.5,126.1 333.4,129.5 C334.3,132.9 334.4,137.0 335.2,141.5 C336.0,146.0 337.0,151.2 338.1,156.4 C339.2,161.6 340.6,167.5 342.0,172.7 C343.4,177.9 344.6,183.4 346.2,187.6 C347.8,191.8 349.8,195.2 351.8,197.7 C353.8,200.2 355.7,201.2 358.3,202.4 C360.9,203.7 364.1,204.6 367.7,205.2 C371.3,205.8 374.6,205.7 380.0,205.8 C385.4,205.9 391.7,206.0 400.0,206.0 C408.3,206.0 420.0,206.0 430.0,206.0 C440.0,206.0 448.3,206.0 460.0,206.0 C471.7,206.0 486.7,206.0 500.0,206.0 C513.3,206.0 533.3,206.0 540.0,206.0" fill="none" stroke="#7b3aa8" stroke-width="1.40"/>
<circle cx="322.8" cy="116.5" r="2.07" fill="#7b3aa8" stroke="#7b3aa8" stroke-width="0.90"/>
<circle cx="323.8" cy="112.5" r="2.07" fill="#7b3aa8" stroke="#7b3aa8" stroke-width="0.90"/>
<circle cx="325.3" cy="110.5" r="2.07" fill="#7b3aa8" stroke="#7b3aa8" stroke-width="0.90"/>
<circle cx="327.0" cy="110.5" r="2.07" fill="#7b3aa8" stroke="#7b3aa8" stroke-width="0.90"/>
<circle cx="328.3" cy="114.0" r="2.07" fill="#7b3aa8" stroke="#7b3aa8" stroke-width="0.90"/>
<circle cx="330.0" cy="121.2" r="2.07" fill="#7b3aa8" stroke="#7b3aa8" stroke-width="0.90"/>
<circle cx="333.4" cy="129.5" r="2.07" fill="#7b3aa8" stroke="#7b3aa8" stroke-width="0.90"/>
<circle cx="335.2" cy="141.5" r="2.07" fill="#7b3aa8" stroke="#7b3aa8" stroke-width="0.90"/>
<circle cx="338.1" cy="156.4" r="2.07" fill="#7b3aa8" stroke="#7b3aa8" stroke-width="0.90"/>
<circle cx="342.0" cy="172.7" r="2.07" fill="#7b3aa8" stroke="#7b3aa8" stroke-width="0.90"/>
<circle cx="346.2" cy="187.6" r="2.07" fill="#7b3aa8" stroke="#7b3aa8" stroke-width="0.90"/>
<circle cx="351.8" cy="197.7" r="2.07" fill="#7b3aa8" stroke="#7b3aa8" stroke-width="0.90"/>
<circle cx="358.3" cy="202.4" r="2.07" fill="#7b3aa8" stroke="#7b3aa8" stroke-width="0.90"/>
<circle cx="367.7" cy="205.2" r="2.07" fill="#7b3aa8" stroke="#7b3aa8" stroke-width="0.90"/>
<circle cx="380.0" cy="205.8" r="2.07" fill="#7b3aa8" stroke="#7b3aa8" stroke-width="0.90"/>
<path d="M323.3,128.8 C323.5,128.0 323.9,126.0 324.5,124.0 C325.1,122.0 326.1,119.3 327.0,117.0 C327.9,114.7 328.9,112.2 330.0,110.0 C331.1,107.8 332.6,104.7 333.5,104.0 C334.4,103.3 334.8,102.2 335.5,106.0 C336.2,109.8 337.1,120.5 338.0,126.8 C338.9,133.1 339.9,140.1 340.6,144.0 C341.3,147.9 341.3,144.3 342.3,150.1 C343.3,155.9 345.0,171.7 346.6,179.0 C348.2,186.3 350.2,190.6 352.1,193.8 C354.1,197.1 355.7,197.1 358.3,198.5 C360.9,199.9 364.3,201.2 367.7,202.0 C371.1,202.8 373.2,203.1 378.6,203.6 C384.0,204.1 393.1,204.5 400.0,204.8 C406.9,205.1 411.8,205.3 420.0,205.5 C428.2,205.7 438.6,205.9 449.4,206.0 C460.2,206.1 469.8,206.0 484.9,206.0 C500.0,206.0 530.8,206.0 540.0,206.0" fill="none" stroke="#1fae66" stroke-width="1.40"/>
<path d="M323.3,126.6 L325.5,130.5 L321.1,130.5 Z" fill="#1fae66" stroke="#1fae66" stroke-width="0.90"/>
<path d="M324.5,121.8 L326.7,125.7 L322.3,125.7 Z" fill="#1fae66" stroke="#1fae66" stroke-width="0.90"/>
<path d="M327.0,114.8 L329.2,118.7 L324.8,118.7 Z" fill="#1fae66" stroke="#1fae66" stroke-width="0.90"/>
<path d="M330.0,107.8 L332.2,111.7 L327.8,111.7 Z" fill="#1fae66" stroke="#1fae66" stroke-width="0.90"/>
<path d="M333.5,101.8 L335.7,105.7 L331.3,105.7 Z" fill="#1fae66" stroke="#1fae66" stroke-width="0.90"/>
<path d="M335.5,103.8 L337.7,107.7 L333.3,107.7 Z" fill="#1fae66" stroke="#1fae66" stroke-width="0.90"/>
<path d="M338.0,124.6 L340.2,128.5 L335.8,128.5 Z" fill="#1fae66" stroke="#1fae66" stroke-width="0.90"/>
<path d="M340.6,141.8 L342.8,145.7 L338.4,145.7 Z" fill="#1fae66" stroke="#1fae66" stroke-width="0.90"/>
<path d="M342.3,147.9 L344.5,151.8 L340.1,151.8 Z" fill="#1fae66" stroke="#1fae66" stroke-width="0.90"/>
<path d="M346.6,176.8 L348.8,180.7 L344.4,180.7 Z" fill="#1fae66" stroke="#1fae66" stroke-width="0.90"/>
<path d="M352.1,191.6 L354.3,195.5 L349.9,195.5 Z" fill="#1fae66" stroke="#1fae66" stroke-width="0.90"/>
<path d="M358.3,196.3 L360.5,200.2 L356.1,200.2 Z" fill="#1fae66" stroke="#1fae66" stroke-width="0.90"/>
<path d="M367.7,199.8 L369.9,203.7 L365.5,203.7 Z" fill="#1fae66" stroke="#1fae66" stroke-width="0.90"/>
<path d="M378.6,201.4 L380.8,205.3 L376.4,205.3 Z" fill="#1fae66" stroke="#1fae66" stroke-width="0.90"/>
<path d="M400.0,202.6 L402.2,206.5 L397.8,206.5 Z" fill="#1fae66" stroke="#1fae66" stroke-width="0.90"/>
<path d="M420.0,203.3 L422.2,207.2 L417.8,207.2 Z" fill="#1fae66" stroke="#1fae66" stroke-width="0.90"/>
<path d="M449.4,203.8 L451.6,207.7 L447.2,207.7 Z" fill="#1fae66" stroke="#1fae66" stroke-width="0.90"/>
<path d="M484.9,203.8 L487.1,207.7 L482.7,207.7 Z" fill="#1fae66" stroke="#1fae66" stroke-width="0.90"/>
<path d="M540.0,203.8 L542.2,207.7 L537.8,207.7 Z" fill="#1fae66" stroke="#1fae66" stroke-width="0.90"/>
<path d="M323.3,134.1 C323.6,132.8 324.3,128.6 325.0,126.0 C325.7,123.4 326.6,121.2 327.4,118.7 C328.2,116.2 328.9,113.2 329.8,111.0 C330.7,108.8 331.8,107.3 332.7,105.4 C333.6,103.5 334.5,101.0 335.5,99.5 C336.5,98.0 337.5,96.2 338.5,96.5 C339.5,96.8 340.1,98.8 341.4,101.4 C342.7,104.0 344.5,107.3 346.2,112.3 C347.9,117.3 350.2,126.3 351.8,131.2 C353.4,136.1 354.6,138.7 355.7,141.8 C356.8,145.0 356.6,145.1 358.3,150.1 C360.0,155.1 362.7,165.0 366.1,172.0 C369.5,179.0 373.7,187.4 378.6,192.2 C383.5,196.9 389.6,198.7 395.5,200.5 C401.4,202.3 407.6,202.4 413.9,203.0 C420.2,203.6 425.8,203.9 433.5,204.2 C441.2,204.5 448.9,204.8 460.0,205.0 C471.1,205.2 486.7,205.2 500.0,205.3 C513.3,205.4 533.3,205.5 540.0,205.5" fill="none" stroke="#2ab4e4" stroke-width="1.40"/>
<path d="M323.3,131.9 L325.5,135.8 L321.1,135.8 Z" fill="#2ab4e4" stroke="#2ab4e4" stroke-width="0.90"/>
<path d="M325.0,123.8 L327.2,127.7 L322.8,127.7 Z" fill="#2ab4e4" stroke="#2ab4e4" stroke-width="0.90"/>
<path d="M327.4,116.5 L329.6,120.4 L325.2,120.4 Z" fill="#2ab4e4" stroke="#2ab4e4" stroke-width="0.90"/>
<path d="M329.8,108.8 L332.0,112.7 L327.6,112.7 Z" fill="#2ab4e4" stroke="#2ab4e4" stroke-width="0.90"/>
<path d="M332.7,103.2 L334.9,107.1 L330.5,107.1 Z" fill="#2ab4e4" stroke="#2ab4e4" stroke-width="0.90"/>
<path d="M335.5,97.3 L337.7,101.2 L333.3,101.2 Z" fill="#2ab4e4" stroke="#2ab4e4" stroke-width="0.90"/>
<path d="M338.5,94.3 L340.7,98.2 L336.3,98.2 Z" fill="#2ab4e4" stroke="#2ab4e4" stroke-width="0.90"/>
<path d="M341.4,99.2 L343.6,103.1 L339.2,103.1 Z" fill="#2ab4e4" stroke="#2ab4e4" stroke-width="0.90"/>
<path d="M346.2,110.1 L348.4,114.0 L344.0,114.0 Z" fill="#2ab4e4" stroke="#2ab4e4" stroke-width="0.90"/>
<path d="M351.8,129.0 L354.0,132.9 L349.6,132.9 Z" fill="#2ab4e4" stroke="#2ab4e4" stroke-width="0.90"/>
<path d="M355.7,139.6 L357.9,143.5 L353.5,143.5 Z" fill="#2ab4e4" stroke="#2ab4e4" stroke-width="0.90"/>
<path d="M358.3,147.9 L360.5,151.8 L356.1,151.8 Z" fill="#2ab4e4" stroke="#2ab4e4" stroke-width="0.90"/>
<path d="M366.1,169.8 L368.3,173.7 L363.9,173.7 Z" fill="#2ab4e4" stroke="#2ab4e4" stroke-width="0.90"/>
<path d="M378.6,190.0 L380.8,193.9 L376.4,193.9 Z" fill="#2ab4e4" stroke="#2ab4e4" stroke-width="0.90"/>
<path d="M395.5,198.3 L397.7,202.2 L393.3,202.2 Z" fill="#2ab4e4" stroke="#2ab4e4" stroke-width="0.90"/>
<path d="M413.9,200.8 L416.1,204.7 L411.7,204.7 Z" fill="#2ab4e4" stroke="#2ab4e4" stroke-width="0.90"/>
<path d="M433.5,202.0 L435.7,205.9 L431.3,205.9 Z" fill="#2ab4e4" stroke="#2ab4e4" stroke-width="0.90"/>
<path d="M460.0,202.8 L462.2,206.7 L457.8,206.7 Z" fill="#2ab4e4" stroke="#2ab4e4" stroke-width="0.90"/>
<path d="M500.0,203.1 L502.2,207.0 L497.8,207.0 Z" fill="#2ab4e4" stroke="#2ab4e4" stroke-width="0.90"/>
<path d="M540.0,203.3 L542.2,207.2 L537.8,207.2 Z" fill="#2ab4e4" stroke="#2ab4e4" stroke-width="0.90"/>
<path d="M324.2,177.5 C324.3,175.8 324.6,170.8 325.0,167.5 C325.4,164.2 326.0,161.1 326.6,158.0 C327.2,154.9 327.8,151.9 328.6,149.0 C329.4,146.1 330.3,145.1 331.2,140.7 C332.1,136.3 333.1,128.7 334.0,122.8 C334.9,116.9 335.7,111.0 336.4,105.4 C337.1,99.9 337.4,94.0 338.4,89.5 C339.4,85.0 340.9,77.9 342.3,78.3 C343.7,78.7 345.3,85.2 346.9,92.1 C348.5,99.0 350.5,111.8 352.1,119.5 C353.7,127.2 355.0,134.4 356.3,138.5 C357.6,142.6 357.9,140.8 359.9,143.9 C361.8,147.0 364.6,153.9 368.0,157.1 C371.4,160.3 375.6,162.0 380.1,163.0 C384.6,164.0 390.7,163.4 394.8,163.2 C398.9,163.0 400.4,161.3 404.9,161.8 C409.4,162.3 414.9,162.8 421.8,166.2 C428.8,169.6 436.2,176.9 446.6,182.0 C457.1,187.1 469.4,193.0 484.5,196.5 C499.6,200.0 527.9,202.0 537.1,203.1 C546.4,204.2 539.5,203.3 540.0,203.3" fill="none" stroke="#1a2866" stroke-width="1.40"/>
<path d="M324.2,175.5 L325.9,177.5 L324.2,179.5 L322.5,177.5 Z" fill="#1a2866" stroke="#1a2866" stroke-width="0.90"/>
<path d="M325.0,165.5 L326.7,167.5 L325.0,169.5 L323.3,167.5 Z" fill="#1a2866" stroke="#1a2866" stroke-width="0.90"/>
<path d="M326.6,156.0 L328.3,158.0 L326.6,160.0 L324.9,158.0 Z" fill="#1a2866" stroke="#1a2866" stroke-width="0.90"/>
<path d="M328.6,147.0 L330.3,149.0 L328.6,151.0 L326.9,149.0 Z" fill="#1a2866" stroke="#1a2866" stroke-width="0.90"/>
<path d="M331.2,138.7 L332.9,140.7 L331.2,142.7 L329.5,140.7 Z" fill="#1a2866" stroke="#1a2866" stroke-width="0.90"/>
<path d="M334.0,120.8 L335.7,122.8 L334.0,124.8 L332.3,122.8 Z" fill="#1a2866" stroke="#1a2866" stroke-width="0.90"/>
<path d="M336.4,103.4 L338.1,105.4 L336.4,107.4 L334.7,105.4 Z" fill="#1a2866" stroke="#1a2866" stroke-width="0.90"/>
<path d="M338.4,87.5 L340.1,89.5 L338.4,91.5 L336.7,89.5 Z" fill="#1a2866" stroke="#1a2866" stroke-width="0.90"/>
<path d="M342.3,76.3 L344.0,78.3 L342.3,80.3 L340.6,78.3 Z" fill="#1a2866" stroke="#1a2866" stroke-width="0.90"/>
<path d="M346.9,90.1 L348.6,92.1 L346.9,94.1 L345.2,92.1 Z" fill="#1a2866" stroke="#1a2866" stroke-width="0.90"/>
<path d="M352.1,117.5 L353.8,119.5 L352.1,121.5 L350.4,119.5 Z" fill="#1a2866" stroke="#1a2866" stroke-width="0.90"/>
<path d="M356.3,136.5 L358.0,138.5 L356.3,140.5 L354.6,138.5 Z" fill="#1a2866" stroke="#1a2866" stroke-width="0.90"/>
<path d="M359.9,141.9 L361.6,143.9 L359.9,145.9 L358.2,143.9 Z" fill="#1a2866" stroke="#1a2866" stroke-width="0.90"/>
<path d="M368.0,155.1 L369.7,157.1 L368.0,159.1 L366.3,157.1 Z" fill="#1a2866" stroke="#1a2866" stroke-width="0.90"/>
<path d="M380.1,161.0 L381.8,163.0 L380.1,165.0 L378.4,163.0 Z" fill="#1a2866" stroke="#1a2866" stroke-width="0.90"/>
<path d="M394.8,161.2 L396.5,163.2 L394.8,165.2 L393.1,163.2 Z" fill="#1a2866" stroke="#1a2866" stroke-width="0.90"/>
<path d="M404.9,159.8 L406.6,161.8 L404.9,163.8 L403.2,161.8 Z" fill="#1a2866" stroke="#1a2866" stroke-width="0.90"/>
<path d="M421.8,164.2 L423.5,166.2 L421.8,168.2 L420.1,166.2 Z" fill="#1a2866" stroke="#1a2866" stroke-width="0.90"/>
<path d="M446.6,180.0 L448.3,182.0 L446.6,184.0 L444.9,182.0 Z" fill="#1a2866" stroke="#1a2866" stroke-width="0.90"/>
<path d="M484.5,194.5 L486.2,196.5 L484.5,198.5 L482.8,196.5 Z" fill="#1a2866" stroke="#1a2866" stroke-width="0.90"/>
<path d="M537.1,201.1 L538.8,203.1 L537.1,205.1 L535.4,203.1 Z" fill="#1a2866" stroke="#1a2866" stroke-width="0.90"/>
<path d="M540.0,201.3 L541.7,203.3 L540.0,205.3 L538.3,203.3 Z" fill="#1a2866" stroke="#1a2866" stroke-width="0.90"/>
<path d="M323.3,184.4 C323.4,183.4 323.8,180.3 324.0,178.2 C324.2,176.1 324.4,174.7 324.8,172.0 C325.2,169.3 325.9,165.5 326.4,161.8 C326.9,158.2 327.2,154.4 327.9,150.1 C328.5,145.8 329.5,141.7 330.3,136.1 C331.1,130.5 331.9,123.8 332.7,116.7 C333.5,109.6 334.3,102.9 335.2,93.7 C336.1,84.5 337.0,71.4 338.1,61.5 C339.2,51.6 340.4,40.2 341.7,34.4 C343.0,28.6 344.5,21.2 346.2,26.6 C347.9,32.0 349.7,53.0 351.9,66.8 C354.1,80.6 356.8,97.7 359.4,109.4 C362.0,121.2 364.4,129.2 367.8,137.3 C371.2,145.5 375.8,152.2 380.1,158.3 C384.4,164.4 389.7,169.0 393.8,174.0 C397.9,179.0 400.0,184.0 404.9,188.2 C409.8,192.4 416.4,196.8 423.2,199.3 C430.0,201.8 436.6,202.5 445.8,203.4 C455.0,204.3 463.2,204.3 478.6,204.7 C494.0,205.1 528.3,205.4 538.3,205.6" fill="none" stroke="#ffb526" stroke-width="1.40"/>
<rect x="321.1" y="182.2" width="4.4" height="4.4" fill="#ffb526" stroke="#ffb526" stroke-width="0.90"/>
<rect x="321.8" y="176.0" width="4.4" height="4.4" fill="#ffb526" stroke="#ffb526" stroke-width="0.90"/>
<rect x="322.6" y="169.8" width="4.4" height="4.4" fill="#ffb526" stroke="#ffb526" stroke-width="0.90"/>
<rect x="324.2" y="159.6" width="4.4" height="4.4" fill="#ffb526" stroke="#ffb526" stroke-width="0.90"/>
<rect x="325.7" y="147.9" width="4.4" height="4.4" fill="#ffb526" stroke="#ffb526" stroke-width="0.90"/>
<rect x="328.1" y="133.9" width="4.4" height="4.4" fill="#ffb526" stroke="#ffb526" stroke-width="0.90"/>
<rect x="330.5" y="114.5" width="4.4" height="4.4" fill="#ffb526" stroke="#ffb526" stroke-width="0.90"/>
<rect x="333.0" y="91.5" width="4.4" height="4.4" fill="#ffb526" stroke="#ffb526" stroke-width="0.90"/>
<rect x="335.9" y="59.3" width="4.4" height="4.4" fill="#ffb526" stroke="#ffb526" stroke-width="0.90"/>
<rect x="339.5" y="32.2" width="4.4" height="4.4" fill="#ffb526" stroke="#ffb526" stroke-width="0.90"/>
<rect x="344.0" y="24.4" width="4.4" height="4.4" fill="#ffb526" stroke="#ffb526" stroke-width="0.90"/>
<rect x="349.7" y="64.6" width="4.4" height="4.4" fill="#ffb526" stroke="#ffb526" stroke-width="0.90"/>
<rect x="357.2" y="107.2" width="4.4" height="4.4" fill="#ffb526" stroke="#ffb526" stroke-width="0.90"/>
<rect x="365.6" y="135.1" width="4.4" height="4.4" fill="#ffb526" stroke="#ffb526" stroke-width="0.90"/>
<rect x="377.9" y="156.1" width="4.4" height="4.4" fill="#ffb526" stroke="#ffb526" stroke-width="0.90"/>
<rect x="391.6" y="171.8" width="4.4" height="4.4" fill="#ffb526" stroke="#ffb526" stroke-width="0.90"/>
<rect x="402.7" y="186.0" width="4.4" height="4.4" fill="#ffb526" stroke="#ffb526" stroke-width="0.90"/>
<rect x="421.0" y="197.1" width="4.4" height="4.4" fill="#ffb526" stroke="#ffb526" stroke-width="0.90"/>
<rect x="443.6" y="201.2" width="4.4" height="4.4" fill="#ffb526" stroke="#ffb526" stroke-width="0.90"/>
<rect x="476.4" y="202.5" width="4.4" height="4.4" fill="#ffb526" stroke="#ffb526" stroke-width="0.90"/>
<rect x="536.1" y="203.4" width="4.4" height="4.4" fill="#ffb526" stroke="#ffb526" stroke-width="0.90"/>
<path d="M337,426 V255 H352 V233 H368 V426 Z" fill="#ecfdfd"/>
<rect x="368" y="414" width="88" height="12" fill="#e6fbfb"/>
<path d="M309.5,226.5 H543.0 V426.3" fill="none" stroke="#333" stroke-width="1.4"/>
<path d="M309.5,226.5 V426.3 H543.0" fill="none" stroke="#1a1a1a" stroke-width="1.2"/>
<line x1="306.9" y1="426.3" x2="309.5" y2="426.3" stroke="#1a1a1a" stroke-width="1"/>
<text x="303.0" y="429.3" font-size="8.20" font-weight="bold" text-anchor="end" fill="#111">0</text>
<line x1="306.9" y1="386.3" x2="309.5" y2="386.3" stroke="#1a1a1a" stroke-width="1"/>
<text x="303.0" y="389.3" font-size="8.20" font-weight="bold" text-anchor="end" fill="#111">0.1</text>
<line x1="306.9" y1="346.4" x2="309.5" y2="346.4" stroke="#1a1a1a" stroke-width="1"/>
<text x="303.0" y="349.4" font-size="8.20" font-weight="bold" text-anchor="end" fill="#111">0.2</text>
<line x1="306.9" y1="306.4" x2="309.5" y2="306.4" stroke="#1a1a1a" stroke-width="1"/>
<text x="303.0" y="309.4" font-size="8.20" font-weight="bold" text-anchor="end" fill="#111">0.3</text>
<line x1="306.9" y1="266.5" x2="309.5" y2="266.5" stroke="#1a1a1a" stroke-width="1"/>
<text x="303.0" y="269.5" font-size="8.20" font-weight="bold" text-anchor="end" fill="#111">0.4</text>
<line x1="306.9" y1="226.5" x2="309.5" y2="226.5" stroke="#1a1a1a" stroke-width="1"/>
<text x="303.0" y="229.5" font-size="8.20" font-weight="bold" text-anchor="end" fill="#111">0.5</text>
<line x1="309.5" y1="426.3" x2="309.5" y2="428.7" stroke="#1a1a1a" stroke-width="1"/>
<text x="309.5" y="439.0" font-size="8.20" font-weight="bold" text-anchor="middle" fill="#111">0</text>
<line x1="367.9" y1="426.3" x2="367.9" y2="428.7" stroke="#1a1a1a" stroke-width="1"/>
<text x="367.9" y="439.0" font-size="8.20" font-weight="bold" text-anchor="middle" fill="#111">5</text>
<line x1="426.2" y1="426.3" x2="426.2" y2="428.7" stroke="#1a1a1a" stroke-width="1"/>
<text x="426.2" y="439.0" font-size="8.20" font-weight="bold" text-anchor="middle" fill="#111">10</text>
<line x1="484.6" y1="426.3" x2="484.6" y2="428.7" stroke="#1a1a1a" stroke-width="1"/>
<text x="484.6" y="439.0" font-size="8.20" font-weight="bold" text-anchor="middle" fill="#111">15</text>
<line x1="543.0" y1="426.3" x2="543.0" y2="428.7" stroke="#1a1a1a" stroke-width="1"/>
<text x="543.0" y="438.4" font-size="8.20" font-weight="bold" text-anchor="middle" fill="#111">20</text>
<text x="510.5" y="443.8" font-size="8.20" font-weight="bold" text-anchor="start" fill="#111">D [nm]</text>
<text transform="translate(287.5,272.7) rotate(-90)" font-size="8.3" font-weight="bold" text-anchor="middle" fill="#111">dV/dD [cm<tspan font-size="5.5" dy="-3">3</tspan><tspan dy="3">/g*nm]</tspan></text>
<text x="530.8" y="242.4" font-size="14.80" font-weight="bold" text-anchor="middle" fill="#111">C</text>
<line x1="507.8" y1="345.1" x2="524.5" y2="345.1" stroke="#5e4fc4" stroke-width="1.3"/>
<circle cx="516.2" cy="345.1" r="1.43" fill="#fff" stroke="#5e4fc4" stroke-width="0.90"/>
<text x="526.5" y="348.1" font-size="8.20" font-weight="bold" text-anchor="start" fill="#111">C2</text>
<line x1="507.8" y1="360.6" x2="524.5" y2="360.6" stroke="#6d86ea" stroke-width="1.3"/>
<path d="M516.2,359.0 L517.8,361.8 L514.6,361.8 Z" fill="#fff" stroke="#6d86ea" stroke-width="0.90"/>
<text x="526.5" y="363.6" font-size="8.20" font-weight="bold" text-anchor="start" fill="#111">C3</text>
<line x1="507.8" y1="376.1" x2="524.5" y2="376.1" stroke="#5c8c68" stroke-width="1.3"/>
<path d="M516.2,374.5 L517.8,377.3 L514.6,377.3 Z" fill="#fff" stroke="#5c8c68" stroke-width="0.90"/>
<text x="526.5" y="379.1" font-size="8.20" font-weight="bold" text-anchor="start" fill="#111">C4</text>
<line x1="507.8" y1="391.6" x2="524.5" y2="391.6" stroke="#1c1d66" stroke-width="1.3"/>
<path d="M516.2,389.7 L517.8,391.6 L516.2,393.5 L514.6,391.6 Z" fill="#9d96d2" stroke="#3a3685" stroke-width="0.8"/>
<text x="526.5" y="394.6" font-size="8.20" font-weight="bold" text-anchor="start" fill="#111">C5</text>
<line x1="507.8" y1="407.1" x2="524.5" y2="407.1" stroke="#c6d400" stroke-width="1.3"/>
<rect x="514.8" y="405.7" width="2.7" height="2.7" fill="#fff" stroke="#c6d400" stroke-width="0.90"/>
<text x="526.5" y="410.1" font-size="8.20" font-weight="bold" text-anchor="start" fill="#111">C6</text>
<path d="M333.5,390.0 C333.7,389.6 334.0,387.8 334.6,387.6 C335.2,387.4 336.2,388.5 337.0,389.0 C337.8,389.5 338.5,390.0 339.5,390.5 C340.5,391.0 341.8,391.2 343.0,392.0 C344.2,392.8 345.4,393.7 346.5,395.0 C347.6,396.3 348.5,398.3 349.5,400.0 C350.5,401.7 351.5,403.4 352.4,405.4 C353.3,407.4 354.1,409.9 355.0,412.0 C355.9,414.1 356.7,416.4 358.0,418.0 C359.3,419.6 361.0,420.6 363.0,421.5 C365.0,422.4 367.2,423.0 370.0,423.5 C372.8,424.0 375.0,424.2 380.0,424.5 C385.0,424.8 391.7,424.9 400.0,425.0 C408.3,425.1 418.3,425.2 430.0,425.3 C441.7,425.4 451.2,425.4 470.0,425.5 C488.8,425.6 530.8,425.6 543.0,425.6" fill="none" stroke="#5e4fc4" stroke-width="1.30"/>
<circle cx="334.6" cy="387.6" r="1.95" fill="#fff" stroke="#5e4fc4" stroke-width="0.90"/>
<circle cx="337.5" cy="389.5" r="1.95" fill="#fff" stroke="#5e4fc4" stroke-width="0.90"/>
<circle cx="352.4" cy="405.4" r="1.95" fill="#fff" stroke="#5e4fc4" stroke-width="0.90"/>
<path d="M330.3,408.8 C330.9,408.1 332.6,405.9 334.0,404.5 C335.4,403.1 336.8,402.7 338.4,400.7 C340.0,398.7 342.4,395.1 343.7,392.7 C345.0,390.2 345.7,389.8 346.4,386.0 C347.1,382.2 347.5,379.3 348.0,370.0 C348.5,360.7 349.0,345.0 349.5,330.0 C350.0,315.0 350.6,295.1 351.2,280.0 C351.8,264.9 352.7,239.5 353.4,239.5 C354.1,239.5 354.8,266.6 355.5,280.0 C356.2,293.4 356.8,307.0 357.4,320.0 C358.0,333.0 358.8,348.0 359.4,358.0 C360.0,368.0 360.5,372.8 361.2,380.0 C361.9,387.2 362.5,396.0 363.6,401.0 C364.7,406.0 366.0,407.7 367.8,410.1 C369.6,412.5 370.9,413.9 374.6,415.4 C378.3,416.9 384.0,418.1 389.9,419.0 C395.8,419.9 401.6,420.4 410.0,421.0 C418.4,421.6 428.3,422.1 440.0,422.5 C451.7,422.9 462.8,423.2 480.0,423.5 C497.2,423.8 532.5,423.9 543.0,424.0" fill="none" stroke="#6d86ea" stroke-width="1.40"/>
<path d="M330.3,406.9 L332.2,410.2 L328.4,410.2 Z" fill="#fff" stroke="#6d86ea" stroke-width="0.90"/>
<path d="M334.0,402.6 L335.9,405.9 L332.1,405.9 Z" fill="#fff" stroke="#6d86ea" stroke-width="0.90"/>
<path d="M338.4,398.8 L340.3,402.1 L336.5,402.1 Z" fill="#fff" stroke="#6d86ea" stroke-width="0.90"/>
<path d="M343.7,390.8 L345.6,394.1 L341.8,394.1 Z" fill="#fff" stroke="#6d86ea" stroke-width="0.90"/>
<path d="M353.4,237.6 L355.3,240.9 L351.5,240.9 Z" fill="#fff" stroke="#6d86ea" stroke-width="0.90"/>
<path d="M359.4,356.1 L361.3,359.4 L357.5,359.4 Z" fill="#fff" stroke="#6d86ea" stroke-width="0.90"/>
<path d="M363.6,399.1 L365.5,402.4 L361.7,402.4 Z" fill="#fff" stroke="#6d86ea" stroke-width="0.90"/>
<path d="M374.6,413.5 L376.5,416.8 L372.7,416.8 Z" fill="#fff" stroke="#6d86ea" stroke-width="0.90"/>
<path d="M389.9,417.1 L391.8,420.4 L388.0,420.4 Z" fill="#fff" stroke="#6d86ea" stroke-width="0.90"/>
<path d="M410.0,419.1 L411.9,422.4 L408.1,422.4 Z" fill="#fff" stroke="#6d86ea" stroke-width="0.90"/>
<path d="M440.0,420.6 L441.9,423.9 L438.1,423.9 Z" fill="#fff" stroke="#6d86ea" stroke-width="0.90"/>
<path d="M331.0,423.5 C331.5,422.8 333.0,420.6 334.0,419.0 C335.0,417.4 335.8,416.0 337.0,414.1 C338.2,412.2 339.7,409.9 341.0,407.5 C342.3,405.1 343.9,402.6 345.0,400.0 C346.1,397.4 346.8,394.8 347.5,392.0 C348.2,389.2 348.5,387.9 349.1,383.4 C349.7,378.9 350.2,369.9 351.0,365.0 C351.8,360.1 352.9,355.2 353.8,354.0 C354.7,352.8 355.6,355.8 356.5,357.5 C357.4,359.2 357.6,362.4 359.3,364.4 C361.0,366.4 364.1,367.6 366.9,369.5 C369.7,371.4 372.7,373.1 376.1,375.6 C379.5,378.1 383.1,381.8 387.3,384.3 C391.6,386.9 396.1,388.7 401.6,390.9 C407.1,393.1 413.5,395.2 420.5,397.6 C427.5,400.0 436.7,402.5 443.5,405.2 C450.3,407.9 453.2,411.4 461.3,413.9 C469.4,416.4 481.7,418.9 491.9,420.4 C502.1,421.9 514.1,422.5 522.6,423.1 C531.1,423.7 539.6,423.9 543.0,424.0" fill="none" stroke="#1c1d66" stroke-width="1.50"/>
<path d="M331.0,421.2 L332.9,423.5 L331.0,425.8 L329.1,423.5 Z" fill="#9d96d2" stroke="#3a3685" stroke-width="0.9"/>
<path d="M337.0,411.8 L338.9,414.1 L337.0,416.4 L335.1,414.1 Z" fill="#9d96d2" stroke="#3a3685" stroke-width="0.9"/>
<path d="M345.0,397.7 L346.9,400.0 L345.0,402.3 L343.1,400.0 Z" fill="#9d96d2" stroke="#3a3685" stroke-width="0.9"/>
<path d="M353.8,351.7 L355.7,354.0 L353.8,356.3 L351.9,354.0 Z" fill="#9d96d2" stroke="#3a3685" stroke-width="0.9"/>
<path d="M366.9,367.2 L368.8,369.5 L366.9,371.8 L365.0,369.5 Z" fill="#9d96d2" stroke="#3a3685" stroke-width="0.9"/>
<path d="M376.1,373.3 L378.0,375.6 L376.1,377.9 L374.2,375.6 Z" fill="#9d96d2" stroke="#3a3685" stroke-width="0.9"/>
<path d="M387.3,382.0 L389.2,384.3 L387.3,386.6 L385.4,384.3 Z" fill="#9d96d2" stroke="#3a3685" stroke-width="0.9"/>
<path d="M401.6,388.6 L403.5,390.9 L401.6,393.2 L399.7,390.9 Z" fill="#9d96d2" stroke="#3a3685" stroke-width="0.9"/>
<path d="M420.5,395.3 L422.4,397.6 L420.5,399.9 L418.6,397.6 Z" fill="#9d96d2" stroke="#3a3685" stroke-width="0.9"/>
<path d="M443.5,402.9 L445.4,405.2 L443.5,407.5 L441.6,405.2 Z" fill="#9d96d2" stroke="#3a3685" stroke-width="0.9"/>
<path d="M461.3,411.6 L463.2,413.9 L461.3,416.2 L459.4,413.9 Z" fill="#9d96d2" stroke="#3a3685" stroke-width="0.9"/>
<path d="M491.9,418.1 L493.8,420.4 L491.9,422.7 L490.0,420.4 Z" fill="#9d96d2" stroke="#3a3685" stroke-width="0.9"/>
<path d="M522.6,420.8 L524.5,423.1 L522.6,425.4 L520.7,423.1 Z" fill="#9d96d2" stroke="#3a3685" stroke-width="0.9"/>
<path d="M540.0,421.7 L541.9,424.0 L540.0,426.3 L538.1,424.0 Z" fill="#9d96d2" stroke="#3a3685" stroke-width="0.9"/>
<path d="M333.0,420.8 C333.6,419.9 335.4,417.3 336.5,415.5 C337.6,413.7 338.6,411.9 339.7,410.1 C340.8,408.4 341.9,406.8 343.0,405.0 C344.1,403.2 345.4,402.2 346.4,399.4 C347.4,396.6 348.6,392.9 349.2,388.0 C349.8,383.1 349.6,376.3 350.0,370.0 C350.4,363.7 350.8,356.3 351.5,350.0 C352.2,343.7 353.1,336.8 354.2,332.0 C355.2,327.2 356.5,324.8 357.8,321.0 C359.1,317.2 360.6,312.7 362.0,309.0 C363.4,305.3 364.9,298.4 366.4,298.6 C367.9,298.8 369.6,305.7 371.0,310.0 C372.4,314.3 373.1,317.1 374.6,324.6 C376.1,332.1 378.1,345.1 380.0,355.0 C381.9,364.9 384.3,376.5 386.3,384.3 C388.3,392.1 389.9,397.2 392.0,402.0 C394.1,406.8 396.1,410.1 399.1,412.9 C402.1,415.6 406.0,417.1 410.0,418.5 C414.0,419.9 416.3,420.7 423.0,421.5 C429.7,422.3 440.5,422.8 450.0,423.2 C459.5,423.6 464.5,423.8 480.0,424.0 C495.5,424.2 532.5,424.4 543.0,424.5" fill="none" stroke="#c6d400" stroke-width="1.60"/>
<rect x="331.4" y="419.2" width="3.3" height="3.3" fill="#fff" stroke="#c6d400" stroke-width="0.90"/>
<rect x="338.1" y="408.5" width="3.3" height="3.3" fill="#fff" stroke="#c6d400" stroke-width="0.90"/>
<rect x="344.8" y="397.8" width="3.3" height="3.3" fill="#fff" stroke="#c6d400" stroke-width="0.90"/>
<rect x="352.6" y="330.4" width="3.3" height="3.3" fill="#fff" stroke="#c6d400" stroke-width="0.90"/>
<rect x="356.2" y="319.4" width="3.3" height="3.3" fill="#fff" stroke="#c6d400" stroke-width="0.90"/>
<rect x="364.8" y="297.0" width="3.3" height="3.3" fill="#fff" stroke="#c6d400" stroke-width="0.90"/>
<rect x="373.0" y="323.0" width="3.3" height="3.3" fill="#fff" stroke="#c6d400" stroke-width="0.90"/>
<rect x="384.7" y="382.7" width="3.3" height="3.3" fill="#fff" stroke="#c6d400" stroke-width="0.90"/>
<rect x="397.5" y="411.2" width="3.3" height="3.3" fill="#fff" stroke="#c6d400" stroke-width="0.90"/>
<rect x="417.5" y="419.2" width="3.3" height="3.3" fill="#fff" stroke="#c6d400" stroke-width="0.90"/>
<rect x="440.8" y="421.5" width="3.3" height="3.3" fill="#fff" stroke="#c6d400" stroke-width="0.90"/>
<rect x="464.4" y="422.4" width="3.3" height="3.3" fill="#fff" stroke="#c6d400" stroke-width="0.90"/>
<rect x="488.4" y="422.7" width="3.3" height="3.3" fill="#fff" stroke="#c6d400" stroke-width="0.90"/>
<rect x="512.4" y="422.8" width="3.3" height="3.3" fill="#fff" stroke="#c6d400" stroke-width="0.90"/>
<path d="M330.3,397.5 C330.8,397.2 332.4,396.6 333.5,396.0 C334.6,395.4 335.8,394.8 337.0,394.0 C338.2,393.2 339.4,392.4 340.5,391.5 C341.6,390.6 342.7,390.9 343.7,388.7 C344.7,386.4 345.8,383.6 346.4,378.0 C347.0,372.4 347.2,362.6 347.6,355.0 C348.1,347.4 348.6,332.5 349.1,332.5 C349.6,332.5 350.1,346.5 350.5,355.0 C350.9,363.5 350.8,374.2 351.3,383.4 C351.8,392.6 352.6,404.1 353.7,410.1 C354.8,416.1 356.1,417.6 357.8,419.5 C359.5,421.4 360.9,421.0 363.8,421.5 C366.7,422.0 369.0,422.2 375.0,422.5 C381.0,422.8 389.2,423.2 400.0,423.5 C410.8,423.8 425.0,423.8 440.0,424.0 C455.0,424.2 472.8,424.3 490.0,424.5 C507.2,424.7 534.2,424.9 543.0,425.0" fill="none" stroke="#5c8c68" stroke-width="1.50"/>
<path d="M330.3,395.6 L332.2,398.9 L328.4,398.9 Z" fill="#fff" stroke="#5c8c68" stroke-width="0.90"/>
<path d="M333.5,394.1 L335.4,397.4 L331.6,397.4 Z" fill="#fff" stroke="#5c8c68" stroke-width="0.90"/>
<path d="M337.0,392.1 L338.9,395.4 L335.1,395.4 Z" fill="#fff" stroke="#5c8c68" stroke-width="0.90"/>
<path d="M340.5,389.6 L342.4,392.9 L338.6,392.9 Z" fill="#fff" stroke="#5c8c68" stroke-width="0.90"/>
<path d="M343.7,386.8 L345.6,390.1 L341.8,390.1 Z" fill="#fff" stroke="#5c8c68" stroke-width="0.90"/>
<path d="M349.1,330.6 L351.0,333.9 L347.2,333.9 Z" fill="#fff" stroke="#5c8c68" stroke-width="0.90"/>
<path d="M351.3,381.5 L353.2,384.8 L349.4,384.8 Z" fill="#fff" stroke="#5c8c68" stroke-width="0.90"/>
<path d="M353.7,408.2 L355.6,411.5 L351.8,411.5 Z" fill="#fff" stroke="#5c8c68" stroke-width="0.90"/>
<path d="M363.8,419.6 L365.7,422.9 L361.9,422.9 Z" fill="#fff" stroke="#5c8c68" stroke-width="0.90"/>
<path d="M375.0,420.6 L376.9,423.9 L373.1,423.9 Z" fill="#fff" stroke="#5c8c68" stroke-width="0.90"/>
<path d="M400.0,421.6 L401.9,424.9 L398.1,424.9 Z" fill="#fff" stroke="#5c8c68" stroke-width="0.90"/>
<path d="M440.0,422.1 L441.9,425.4 L438.1,425.4 Z" fill="#fff" stroke="#5c8c68" stroke-width="0.90"/>
<path d="M470.0,422.4 L471.9,425.7 L468.1,425.7 Z" fill="#fff" stroke="#5c8c68" stroke-width="0.90"/>
<path d="M505.0,422.7 L506.9,426.0 L503.1,426.0 Z" fill="#fff" stroke="#5c8c68" stroke-width="0.90"/>
</svg>
</body></html>
